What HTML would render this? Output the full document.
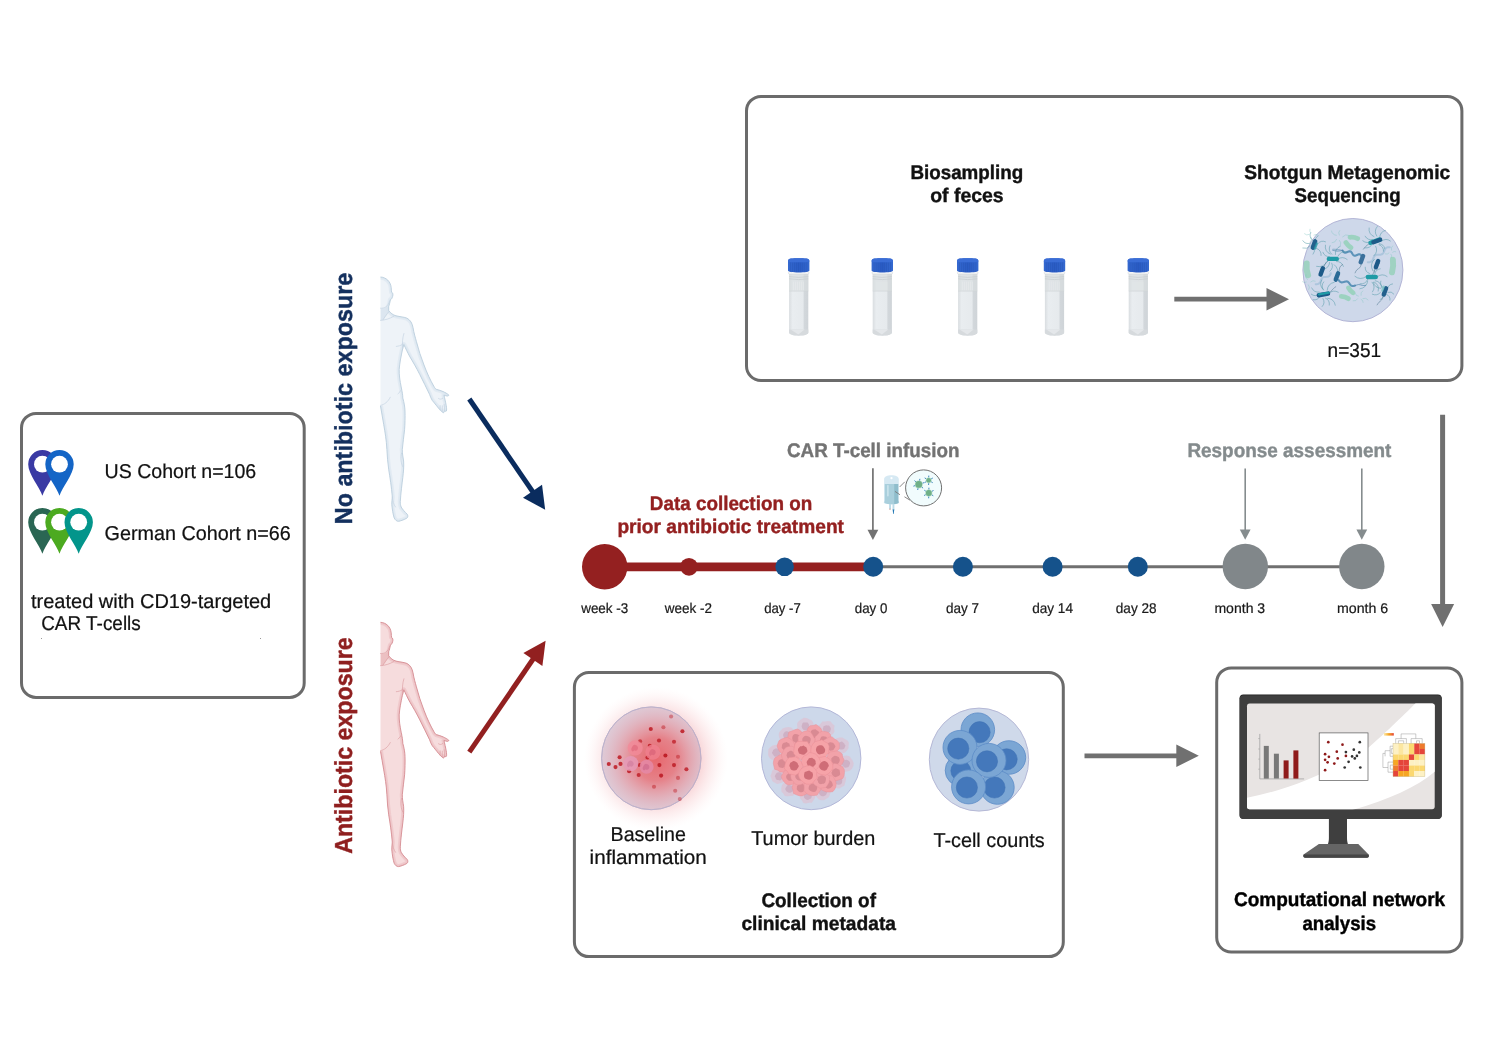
<!DOCTYPE html>
<html lang="en">
<head>
<meta charset="utf-8">
<title>Study design</title>
<style>
html,body{margin:0;padding:0;background:#fff;}
body{width:1490px;height:1043px;overflow:hidden;}
#wrap{will-change:transform;}
svg{display:block;font-family:"Liberation Sans",sans-serif;}
text{text-rendering:geometricPrecision;}
</style>
</head>
<body>
<div id="wrap">
<svg width="1490" height="1043" viewBox="0 0 1490 1043">
<rect width="1490" height="1043" fill="#ffffff"/>
<rect x="21.5" y="413.4" width="282.7" height="284.0" rx="14.5" ry="14.5" fill="#fff" stroke="#6b6b6b" stroke-width="3"/>
<rect x="746.5" y="96.4" width="715.4000000000001" height="284.1" rx="14.5" ry="14.5" fill="#fff" stroke="#6b6b6b" stroke-width="3"/>
<rect x="574.4" y="672.5" width="488.9" height="284.1" rx="14.5" ry="14.5" fill="#fff" stroke="#6b6b6b" stroke-width="3"/>
<rect x="1216.7" y="667.9" width="245.20000000000005" height="284.1" rx="14.5" ry="14.5" fill="#fff" stroke="#6b6b6b" stroke-width="3"/>
<g transform="translate(42.4,450.1)"><path d="M0,45.6 C-2.5,37.5 -14.2,24.5 -14.2,14.2 A14.2,14.2 0 1 1 14.2,14.2 C14.2,24.5 2.5,37.5 0,45.6 Z" fill="#3a3aa4"/><circle cx="0" cy="14.1" r="8.4" fill="#fff"/></g>
<g transform="translate(59.5,450.1)"><path d="M0,45.6 C-2.5,37.5 -14.2,24.5 -14.2,14.2 A14.2,14.2 0 1 1 14.2,14.2 C14.2,24.5 2.5,37.5 0,45.6 Z" fill="#1465c6"/><circle cx="0" cy="14.1" r="8.4" fill="#fff"/></g>
<g transform="translate(42.4,508.1)"><path d="M0,45.6 C-2.5,37.5 -14.2,24.5 -14.2,14.2 A14.2,14.2 0 1 1 14.2,14.2 C14.2,24.5 2.5,37.5 0,45.6 Z" fill="#2a6653"/><circle cx="0" cy="14.1" r="8.4" fill="#fff"/></g>
<g transform="translate(59.5,508.1)"><path d="M0,45.6 C-2.5,37.5 -14.2,24.5 -14.2,14.2 A14.2,14.2 0 1 1 14.2,14.2 C14.2,24.5 2.5,37.5 0,45.6 Z" fill="#4caa20"/><circle cx="0" cy="14.1" r="8.4" fill="#fff"/></g>
<g transform="translate(78.7,508.1)"><path d="M0,45.6 C-2.5,37.5 -14.2,24.5 -14.2,14.2 A14.2,14.2 0 1 1 14.2,14.2 C14.2,24.5 2.5,37.5 0,45.6 Z" fill="#03958b"/><circle cx="0" cy="14.1" r="8.4" fill="#fff"/></g>
<text x="104.6" y="478.1" font-size="20.0" font-weight="normal" fill="#111" stroke="#111" stroke-width="0.22" textLength="151.6" lengthAdjust="spacingAndGlyphs" >US Cohort n=106</text>
<text x="104.6" y="539.6" font-size="20.0" font-weight="normal" fill="#111" stroke="#111" stroke-width="0.22" textLength="186.2" lengthAdjust="spacingAndGlyphs" >German Cohort n=66</text>
<text x="31.0" y="607.7" font-size="20.0" font-weight="normal" fill="#111" stroke="#111" stroke-width="0.22" textLength="240.2" lengthAdjust="spacingAndGlyphs" >treated with CD19-targeted</text>
<text x="41.2" y="630.4" font-size="20.0" font-weight="normal" fill="#111" stroke="#111" stroke-width="0.22" textLength="99.6" lengthAdjust="spacingAndGlyphs" >CAR T-cells</text>
<rect x="41" y="638" width="1" height="1" fill="#999"/><rect x="260" y="638" width="1" height="1" fill="#999"/>
<defs><clipPath id="bodyclip"><path d="M0.5,0 C6,0.3 10.6,4.5 11.2,10.5 C11.4,12.5 11.3,14 11.6,15.2 C12.8,15.6 13.3,17.5 12.6,19.5 C12,21.5 11.2,22.6 10.4,22.8 C10,25.5 9.2,28 8.7,29.5 L8.7,33.5 C10.5,36 13,38 16,38.8 C20,39.8 24.5,40 27,41.2 C30.5,43 32.3,46.5 33,50.5 C34,56.5 35.2,60 36.4,64.5 C38.5,72.5 41,80.5 44,88 C47,96 50.5,103.5 54,109.5 C54.8,111 55.5,111.8 56.3,112.3 C58.5,113 61,113.6 63.2,114.6 C65,115.5 67.5,116.8 68.6,117.8 C69,118.6 68.2,119.2 67,119 C65.8,118.8 64.8,118.4 64,118.2 C64.6,121 65.6,125 66.2,128.5 C66.6,131 66.8,133 66.4,134 C65.8,134.6 65,134.3 64.6,133.6 L64,135.4 C63.4,136 62.6,135.6 62.2,134.8 C60.5,133.5 59.5,132.3 58.4,131 C56,128 54,125.5 52.3,123.5 C51,121.5 50.3,119.5 49.6,117.5 C46.5,111 43,104 39.8,97.6 C36.5,91 33,85 30,80 C27.5,75.5 25.5,71 23.8,67.5 C23.4,69.5 22.8,71.5 22.4,73 C21,79.5 19.6,86.5 19.2,92.5 C19,98 20,104 21.2,110 C22.2,115 22.8,118 22.8,121 C24.2,126 24.9,130 25,134 C25.2,140 25,147 24.6,152.5 C24,159 22.8,166 22.3,172.5 C22.2,176 23,180 23.6,184 C24,189 23.5,195 22.8,200.5 C22,207 20.8,216 20.3,224.5 C20.2,227 20.6,228.5 21.2,230 C22.5,232.5 25,235 27.2,237.2 C28.2,238.5 28,240.3 26.8,241.2 C24,242.8 21,243.8 18.6,244.3 C16.8,244.5 15.2,243 14.2,241 C13,237.5 12.2,232 11.8,227.5 C11.6,225 12.2,222.5 12.3,220 C11.5,210 10,200.5 8.7,192.5 C7.8,186 7.2,179.5 6.9,172.5 C6.4,163 5,155 3.7,147.5 C2.6,141 1.5,135 0.5,129 Z"/></clipPath></defs>
<g transform="translate(380,277)">
<path d="M0.5,0 C6,0.3 10.6,4.5 11.2,10.5 C11.4,12.5 11.3,14 11.6,15.2 C12.8,15.6 13.3,17.5 12.6,19.5 C12,21.5 11.2,22.6 10.4,22.8 C10,25.5 9.2,28 8.7,29.5 L8.7,33.5 C10.5,36 13,38 16,38.8 C20,39.8 24.5,40 27,41.2 C30.5,43 32.3,46.5 33,50.5 C34,56.5 35.2,60 36.4,64.5 C38.5,72.5 41,80.5 44,88 C47,96 50.5,103.5 54,109.5 C54.8,111 55.5,111.8 56.3,112.3 C58.5,113 61,113.6 63.2,114.6 C65,115.5 67.5,116.8 68.6,117.8 C69,118.6 68.2,119.2 67,119 C65.8,118.8 64.8,118.4 64,118.2 C64.6,121 65.6,125 66.2,128.5 C66.6,131 66.8,133 66.4,134 C65.8,134.6 65,134.3 64.6,133.6 L64,135.4 C63.4,136 62.6,135.6 62.2,134.8 C60.5,133.5 59.5,132.3 58.4,131 C56,128 54,125.5 52.3,123.5 C51,121.5 50.3,119.5 49.6,117.5 C46.5,111 43,104 39.8,97.6 C36.5,91 33,85 30,80 C27.5,75.5 25.5,71 23.8,67.5 C23.4,69.5 22.8,71.5 22.4,73 C21,79.5 19.6,86.5 19.2,92.5 C19,98 20,104 21.2,110 C22.2,115 22.8,118 22.8,121 C24.2,126 24.9,130 25,134 C25.2,140 25,147 24.6,152.5 C24,159 22.8,166 22.3,172.5 C22.2,176 23,180 23.6,184 C24,189 23.5,195 22.8,200.5 C22,207 20.8,216 20.3,224.5 C20.2,227 20.6,228.5 21.2,230 C22.5,232.5 25,235 27.2,237.2 C28.2,238.5 28,240.3 26.8,241.2 C24,242.8 21,243.8 18.6,244.3 C16.8,244.5 15.2,243 14.2,241 C13,237.5 12.2,232 11.8,227.5 C11.6,225 12.2,222.5 12.3,220 C11.5,210 10,200.5 8.7,192.5 C7.8,186 7.2,179.5 6.9,172.5 C6.4,163 5,155 3.7,147.5 C2.6,141 1.5,135 0.5,129 Z" fill="#eef3f8"/>
<g clip-path="url(#bodyclip)">
<path d="M0.5,0 C6,0.3 10.6,4.5 11.2,10.5 C11.4,12.5 11.3,14 11.6,15.2 C12.8,15.6 13.3,17.5 12.6,19.5 C12,21.5 11.2,22.6 10.4,22.8 C10,25.5 9.2,28 8.7,29.5 L8.7,33.5 C10.5,36 13,38 16,38.8 C20,39.8 24.5,40 27,41.2 C30.5,43 32.3,46.5 33,50.5 C34,56.5 35.2,60 36.4,64.5 C38.5,72.5 41,80.5 44,88 C47,96 50.5,103.5 54,109.5 C54.8,111 55.5,111.8 56.3,112.3 C58.5,113 61,113.6 63.2,114.6 C65,115.5 67.5,116.8 68.6,117.8 C69,118.6 68.2,119.2 67,119 C65.8,118.8 64.8,118.4 64,118.2 C64.6,121 65.6,125 66.2,128.5 C66.6,131 66.8,133 66.4,134 C65.8,134.6 65,134.3 64.6,133.6 L64,135.4 C63.4,136 62.6,135.6 62.2,134.8 C60.5,133.5 59.5,132.3 58.4,131 C56,128 54,125.5 52.3,123.5 C51,121.5 50.3,119.5 49.6,117.5 C46.5,111 43,104 39.8,97.6 C36.5,91 33,85 30,80 C27.5,75.5 25.5,71 23.8,67.5 C23.4,69.5 22.8,71.5 22.4,73 C21,79.5 19.6,86.5 19.2,92.5 C19,98 20,104 21.2,110 C22.2,115 22.8,118 22.8,121 C24.2,126 24.9,130 25,134 C25.2,140 25,147 24.6,152.5 C24,159 22.8,166 22.3,172.5 C22.2,176 23,180 23.6,184 C24,189 23.5,195 22.8,200.5 C22,207 20.8,216 20.3,224.5 C20.2,227 20.6,228.5 21.2,230 C22.5,232.5 25,235 27.2,237.2 C28.2,238.5 28,240.3 26.8,241.2 C24,242.8 21,243.8 18.6,244.3 C16.8,244.5 15.2,243 14.2,241 C13,237.5 12.2,232 11.8,227.5 C11.6,225 12.2,222.5 12.3,220 C11.5,210 10,200.5 8.7,192.5 C7.8,186 7.2,179.5 6.9,172.5 C6.4,163 5,155 3.7,147.5 C2.6,141 1.5,135 0.5,129" fill="none" stroke="#d9e4ee" stroke-width="5" stroke-linejoin="round" opacity="0.55"/>
<path d="M0.5,0 C6,0.3 10.6,4.5 11.2,10.5 C11.4,12.5 11.3,14 11.6,15.2 C12.8,15.6 13.3,17.5 12.6,19.5 C12,21.5 11.2,22.6 10.4,22.8 C10,25.5 9.2,28 8.7,29.5 L8.7,33.5 C10.5,36 13,38 16,38.8 C20,39.8 24.5,40 27,41.2 C30.5,43 32.3,46.5 33,50.5 C34,56.5 35.2,60 36.4,64.5 C38.5,72.5 41,80.5 44,88 C47,96 50.5,103.5 54,109.5 C54.8,111 55.5,111.8 56.3,112.3 C58.5,113 61,113.6 63.2,114.6 C65,115.5 67.5,116.8 68.6,117.8 C69,118.6 68.2,119.2 67,119 C65.8,118.8 64.8,118.4 64,118.2 C64.6,121 65.6,125 66.2,128.5 C66.6,131 66.8,133 66.4,134 C65.8,134.6 65,134.3 64.6,133.6 L64,135.4 C63.4,136 62.6,135.6 62.2,134.8 C60.5,133.5 59.5,132.3 58.4,131 C56,128 54,125.5 52.3,123.5 C51,121.5 50.3,119.5 49.6,117.5 C46.5,111 43,104 39.8,97.6 C36.5,91 33,85 30,80 C27.5,75.5 25.5,71 23.8,67.5 C23.4,69.5 22.8,71.5 22.4,73 C21,79.5 19.6,86.5 19.2,92.5 C19,98 20,104 21.2,110 C22.2,115 22.8,118 22.8,121 C24.2,126 24.9,130 25,134 C25.2,140 25,147 24.6,152.5 C24,159 22.8,166 22.3,172.5 C22.2,176 23,180 23.6,184 C24,189 23.5,195 22.8,200.5 C22,207 20.8,216 20.3,224.5 C20.2,227 20.6,228.5 21.2,230 C22.5,232.5 25,235 27.2,237.2 C28.2,238.5 28,240.3 26.8,241.2 C24,242.8 21,243.8 18.6,244.3 C16.8,244.5 15.2,243 14.2,241 C13,237.5 12.2,232 11.8,227.5 C11.6,225 12.2,222.5 12.3,220 C11.5,210 10,200.5 8.7,192.5 C7.8,186 7.2,179.5 6.9,172.5 C6.4,163 5,155 3.7,147.5 C2.6,141 1.5,135 0.5,129" fill="none" stroke="#d9e4ee" stroke-width="2.4" stroke-linejoin="round" opacity="0.6"/>
<path d="M0.5,31.4 C4,31.6 7.2,30.4 8.9,28.2 L9.4,34.4 C7,37.5 4.8,40.5 3.4,42.8 L0.5,43.4 Z" fill="#d9e4ee" opacity="0.9"/>
</g>
<path d="M0.5,0 C6,0.3 10.6,4.5 11.2,10.5 C11.4,12.5 11.3,14 11.6,15.2 C12.8,15.6 13.3,17.5 12.6,19.5 C12,21.5 11.2,22.6 10.4,22.8 C10,25.5 9.2,28 8.7,29.5 L8.7,33.5 C10.5,36 13,38 16,38.8 C20,39.8 24.5,40 27,41.2 C30.5,43 32.3,46.5 33,50.5 C34,56.5 35.2,60 36.4,64.5 C38.5,72.5 41,80.5 44,88 C47,96 50.5,103.5 54,109.5 C54.8,111 55.5,111.8 56.3,112.3 C58.5,113 61,113.6 63.2,114.6 C65,115.5 67.5,116.8 68.6,117.8 C69,118.6 68.2,119.2 67,119 C65.8,118.8 64.8,118.4 64,118.2 C64.6,121 65.6,125 66.2,128.5 C66.6,131 66.8,133 66.4,134 C65.8,134.6 65,134.3 64.6,133.6 L64,135.4 C63.4,136 62.6,135.6 62.2,134.8 C60.5,133.5 59.5,132.3 58.4,131 C56,128 54,125.5 52.3,123.5 C51,121.5 50.3,119.5 49.6,117.5 C46.5,111 43,104 39.8,97.6 C36.5,91 33,85 30,80 C27.5,75.5 25.5,71 23.8,67.5 C23.4,69.5 22.8,71.5 22.4,73 C21,79.5 19.6,86.5 19.2,92.5 C19,98 20,104 21.2,110 C22.2,115 22.8,118 22.8,121 C24.2,126 24.9,130 25,134 C25.2,140 25,147 24.6,152.5 C24,159 22.8,166 22.3,172.5 C22.2,176 23,180 23.6,184 C24,189 23.5,195 22.8,200.5 C22,207 20.8,216 20.3,224.5 C20.2,227 20.6,228.5 21.2,230 C22.5,232.5 25,235 27.2,237.2 C28.2,238.5 28,240.3 26.8,241.2 C24,242.8 21,243.8 18.6,244.3 C16.8,244.5 15.2,243 14.2,241 C13,237.5 12.2,232 11.8,227.5 C11.6,225 12.2,222.5 12.3,220 C11.5,210 10,200.5 8.7,192.5 C7.8,186 7.2,179.5 6.9,172.5 C6.4,163 5,155 3.7,147.5 C2.6,141 1.5,135 0.5,129" fill="none" stroke="#bccfde" stroke-width="0.9" stroke-linejoin="round"/>
<path d="M0.5,31.2 C4.5,31.6 8.2,29.5 9.6,24 M0.5,43.4 C5,43.2 10,41.6 13.7,39.3 M8.9,34.6 C6.5,37.5 4.5,40.3 3,42.8 M16.3,69.4 C18.5,69.2 20.8,68.6 22.4,67.4 M23.9,56.5 C22.4,61 22.2,66.5 22.7,71.2 M0.5,128.4 C4.5,127.6 8,124.8 10.3,120.2 M18,116.8 C19.5,115.6 20.8,114 21.6,112.4 M21.6,176 C20.2,181 20.8,186 23,190 M12.3,220 C12.8,224 13.6,227.5 15.5,230 M64.2,127.5 L64.6,133.4 M62.3,128.8 L62.3,134.6 M60.2,128.6 L60,132.8 M58.5,121.5 C60,122.5 61.5,122.4 62.8,121.2" fill="none" stroke="#c3d3e1" stroke-width="0.8" stroke-linecap="round" opacity="0.85"/>
</g>
<g transform="translate(380,622.3)">
<path d="M0.5,0 C6,0.3 10.6,4.5 11.2,10.5 C11.4,12.5 11.3,14 11.6,15.2 C12.8,15.6 13.3,17.5 12.6,19.5 C12,21.5 11.2,22.6 10.4,22.8 C10,25.5 9.2,28 8.7,29.5 L8.7,33.5 C10.5,36 13,38 16,38.8 C20,39.8 24.5,40 27,41.2 C30.5,43 32.3,46.5 33,50.5 C34,56.5 35.2,60 36.4,64.5 C38.5,72.5 41,80.5 44,88 C47,96 50.5,103.5 54,109.5 C54.8,111 55.5,111.8 56.3,112.3 C58.5,113 61,113.6 63.2,114.6 C65,115.5 67.5,116.8 68.6,117.8 C69,118.6 68.2,119.2 67,119 C65.8,118.8 64.8,118.4 64,118.2 C64.6,121 65.6,125 66.2,128.5 C66.6,131 66.8,133 66.4,134 C65.8,134.6 65,134.3 64.6,133.6 L64,135.4 C63.4,136 62.6,135.6 62.2,134.8 C60.5,133.5 59.5,132.3 58.4,131 C56,128 54,125.5 52.3,123.5 C51,121.5 50.3,119.5 49.6,117.5 C46.5,111 43,104 39.8,97.6 C36.5,91 33,85 30,80 C27.5,75.5 25.5,71 23.8,67.5 C23.4,69.5 22.8,71.5 22.4,73 C21,79.5 19.6,86.5 19.2,92.5 C19,98 20,104 21.2,110 C22.2,115 22.8,118 22.8,121 C24.2,126 24.9,130 25,134 C25.2,140 25,147 24.6,152.5 C24,159 22.8,166 22.3,172.5 C22.2,176 23,180 23.6,184 C24,189 23.5,195 22.8,200.5 C22,207 20.8,216 20.3,224.5 C20.2,227 20.6,228.5 21.2,230 C22.5,232.5 25,235 27.2,237.2 C28.2,238.5 28,240.3 26.8,241.2 C24,242.8 21,243.8 18.6,244.3 C16.8,244.5 15.2,243 14.2,241 C13,237.5 12.2,232 11.8,227.5 C11.6,225 12.2,222.5 12.3,220 C11.5,210 10,200.5 8.7,192.5 C7.8,186 7.2,179.5 6.9,172.5 C6.4,163 5,155 3.7,147.5 C2.6,141 1.5,135 0.5,129 Z" fill="#f6dcdd"/>
<g clip-path="url(#bodyclip)">
<path d="M0.5,0 C6,0.3 10.6,4.5 11.2,10.5 C11.4,12.5 11.3,14 11.6,15.2 C12.8,15.6 13.3,17.5 12.6,19.5 C12,21.5 11.2,22.6 10.4,22.8 C10,25.5 9.2,28 8.7,29.5 L8.7,33.5 C10.5,36 13,38 16,38.8 C20,39.8 24.5,40 27,41.2 C30.5,43 32.3,46.5 33,50.5 C34,56.5 35.2,60 36.4,64.5 C38.5,72.5 41,80.5 44,88 C47,96 50.5,103.5 54,109.5 C54.8,111 55.5,111.8 56.3,112.3 C58.5,113 61,113.6 63.2,114.6 C65,115.5 67.5,116.8 68.6,117.8 C69,118.6 68.2,119.2 67,119 C65.8,118.8 64.8,118.4 64,118.2 C64.6,121 65.6,125 66.2,128.5 C66.6,131 66.8,133 66.4,134 C65.8,134.6 65,134.3 64.6,133.6 L64,135.4 C63.4,136 62.6,135.6 62.2,134.8 C60.5,133.5 59.5,132.3 58.4,131 C56,128 54,125.5 52.3,123.5 C51,121.5 50.3,119.5 49.6,117.5 C46.5,111 43,104 39.8,97.6 C36.5,91 33,85 30,80 C27.5,75.5 25.5,71 23.8,67.5 C23.4,69.5 22.8,71.5 22.4,73 C21,79.5 19.6,86.5 19.2,92.5 C19,98 20,104 21.2,110 C22.2,115 22.8,118 22.8,121 C24.2,126 24.9,130 25,134 C25.2,140 25,147 24.6,152.5 C24,159 22.8,166 22.3,172.5 C22.2,176 23,180 23.6,184 C24,189 23.5,195 22.8,200.5 C22,207 20.8,216 20.3,224.5 C20.2,227 20.6,228.5 21.2,230 C22.5,232.5 25,235 27.2,237.2 C28.2,238.5 28,240.3 26.8,241.2 C24,242.8 21,243.8 18.6,244.3 C16.8,244.5 15.2,243 14.2,241 C13,237.5 12.2,232 11.8,227.5 C11.6,225 12.2,222.5 12.3,220 C11.5,210 10,200.5 8.7,192.5 C7.8,186 7.2,179.5 6.9,172.5 C6.4,163 5,155 3.7,147.5 C2.6,141 1.5,135 0.5,129" fill="none" stroke="#ebbcbf" stroke-width="5" stroke-linejoin="round" opacity="0.55"/>
<path d="M0.5,0 C6,0.3 10.6,4.5 11.2,10.5 C11.4,12.5 11.3,14 11.6,15.2 C12.8,15.6 13.3,17.5 12.6,19.5 C12,21.5 11.2,22.6 10.4,22.8 C10,25.5 9.2,28 8.7,29.5 L8.7,33.5 C10.5,36 13,38 16,38.8 C20,39.8 24.5,40 27,41.2 C30.5,43 32.3,46.5 33,50.5 C34,56.5 35.2,60 36.4,64.5 C38.5,72.5 41,80.5 44,88 C47,96 50.5,103.5 54,109.5 C54.8,111 55.5,111.8 56.3,112.3 C58.5,113 61,113.6 63.2,114.6 C65,115.5 67.5,116.8 68.6,117.8 C69,118.6 68.2,119.2 67,119 C65.8,118.8 64.8,118.4 64,118.2 C64.6,121 65.6,125 66.2,128.5 C66.6,131 66.8,133 66.4,134 C65.8,134.6 65,134.3 64.6,133.6 L64,135.4 C63.4,136 62.6,135.6 62.2,134.8 C60.5,133.5 59.5,132.3 58.4,131 C56,128 54,125.5 52.3,123.5 C51,121.5 50.3,119.5 49.6,117.5 C46.5,111 43,104 39.8,97.6 C36.5,91 33,85 30,80 C27.5,75.5 25.5,71 23.8,67.5 C23.4,69.5 22.8,71.5 22.4,73 C21,79.5 19.6,86.5 19.2,92.5 C19,98 20,104 21.2,110 C22.2,115 22.8,118 22.8,121 C24.2,126 24.9,130 25,134 C25.2,140 25,147 24.6,152.5 C24,159 22.8,166 22.3,172.5 C22.2,176 23,180 23.6,184 C24,189 23.5,195 22.8,200.5 C22,207 20.8,216 20.3,224.5 C20.2,227 20.6,228.5 21.2,230 C22.5,232.5 25,235 27.2,237.2 C28.2,238.5 28,240.3 26.8,241.2 C24,242.8 21,243.8 18.6,244.3 C16.8,244.5 15.2,243 14.2,241 C13,237.5 12.2,232 11.8,227.5 C11.6,225 12.2,222.5 12.3,220 C11.5,210 10,200.5 8.7,192.5 C7.8,186 7.2,179.5 6.9,172.5 C6.4,163 5,155 3.7,147.5 C2.6,141 1.5,135 0.5,129" fill="none" stroke="#ebbcbf" stroke-width="2.4" stroke-linejoin="round" opacity="0.6"/>
<path d="M0.5,31.4 C4,31.6 7.2,30.4 8.9,28.2 L9.4,34.4 C7,37.5 4.8,40.5 3.4,42.8 L0.5,43.4 Z" fill="#ebbcbf" opacity="0.9"/>
</g>
<path d="M0.5,0 C6,0.3 10.6,4.5 11.2,10.5 C11.4,12.5 11.3,14 11.6,15.2 C12.8,15.6 13.3,17.5 12.6,19.5 C12,21.5 11.2,22.6 10.4,22.8 C10,25.5 9.2,28 8.7,29.5 L8.7,33.5 C10.5,36 13,38 16,38.8 C20,39.8 24.5,40 27,41.2 C30.5,43 32.3,46.5 33,50.5 C34,56.5 35.2,60 36.4,64.5 C38.5,72.5 41,80.5 44,88 C47,96 50.5,103.5 54,109.5 C54.8,111 55.5,111.8 56.3,112.3 C58.5,113 61,113.6 63.2,114.6 C65,115.5 67.5,116.8 68.6,117.8 C69,118.6 68.2,119.2 67,119 C65.8,118.8 64.8,118.4 64,118.2 C64.6,121 65.6,125 66.2,128.5 C66.6,131 66.8,133 66.4,134 C65.8,134.6 65,134.3 64.6,133.6 L64,135.4 C63.4,136 62.6,135.6 62.2,134.8 C60.5,133.5 59.5,132.3 58.4,131 C56,128 54,125.5 52.3,123.5 C51,121.5 50.3,119.5 49.6,117.5 C46.5,111 43,104 39.8,97.6 C36.5,91 33,85 30,80 C27.5,75.5 25.5,71 23.8,67.5 C23.4,69.5 22.8,71.5 22.4,73 C21,79.5 19.6,86.5 19.2,92.5 C19,98 20,104 21.2,110 C22.2,115 22.8,118 22.8,121 C24.2,126 24.9,130 25,134 C25.2,140 25,147 24.6,152.5 C24,159 22.8,166 22.3,172.5 C22.2,176 23,180 23.6,184 C24,189 23.5,195 22.8,200.5 C22,207 20.8,216 20.3,224.5 C20.2,227 20.6,228.5 21.2,230 C22.5,232.5 25,235 27.2,237.2 C28.2,238.5 28,240.3 26.8,241.2 C24,242.8 21,243.8 18.6,244.3 C16.8,244.5 15.2,243 14.2,241 C13,237.5 12.2,232 11.8,227.5 C11.6,225 12.2,222.5 12.3,220 C11.5,210 10,200.5 8.7,192.5 C7.8,186 7.2,179.5 6.9,172.5 C6.4,163 5,155 3.7,147.5 C2.6,141 1.5,135 0.5,129" fill="none" stroke="#d68f94" stroke-width="0.9" stroke-linejoin="round"/>
<path d="M0.5,31.2 C4.5,31.6 8.2,29.5 9.6,24 M0.5,43.4 C5,43.2 10,41.6 13.7,39.3 M8.9,34.6 C6.5,37.5 4.5,40.3 3,42.8 M16.3,69.4 C18.5,69.2 20.8,68.6 22.4,67.4 M23.9,56.5 C22.4,61 22.2,66.5 22.7,71.2 M0.5,128.4 C4.5,127.6 8,124.8 10.3,120.2 M18,116.8 C19.5,115.6 20.8,114 21.6,112.4 M21.6,176 C20.2,181 20.8,186 23,190 M12.3,220 C12.8,224 13.6,227.5 15.5,230 M64.2,127.5 L64.6,133.4 M62.3,128.8 L62.3,134.6 M60.2,128.6 L60,132.8 M58.5,121.5 C60,122.5 61.5,122.4 62.8,121.2" fill="none" stroke="#dda0a5" stroke-width="0.8" stroke-linecap="round" opacity="0.85"/>
</g>
<text transform="translate(351.6,524.2) rotate(-90)" font-size="24.6" font-weight="bold" fill="#14305e" stroke="#14305e" stroke-width="0.45" textLength="251.5" lengthAdjust="spacingAndGlyphs">No antibiotic exposure</text>
<text transform="translate(351.6,853.8) rotate(-90)" font-size="24.6" font-weight="bold" fill="#8f1f1f" stroke="#8f1f1f" stroke-width="0.45" textLength="216.5" lengthAdjust="spacingAndGlyphs">Antibiotic exposure</text>
<line x1="469.3" y1="399.0" x2="533.0" y2="492.1" stroke="#0a2c5e" stroke-width="5"/>
<polygon points="545.2,509.8 523.0,497.7 542.0,484.7" fill="#0a2c5e"/>
<line x1="469.3" y1="752.2" x2="533.5" y2="658.5" stroke="#922020" stroke-width="5"/>
<polygon points="545.6,640.8 542.4,665.9 523.4,652.9" fill="#922020"/>
<text x="910.4" y="178.6" font-size="19.7" font-weight="bold" fill="#111" stroke="#111" stroke-width="0.4" textLength="112.8" lengthAdjust="spacingAndGlyphs" >Biosampling</text>
<text x="930.2" y="201.8" font-size="19.7" font-weight="bold" fill="#111" stroke="#111" stroke-width="0.4" textLength="73.4" lengthAdjust="spacingAndGlyphs" >of feces</text>
<text x="1244.3" y="178.6" font-size="19.7" font-weight="bold" fill="#111" stroke="#111" stroke-width="0.4" textLength="205.9" lengthAdjust="spacingAndGlyphs" >Shotgun Metagenomic</text>
<text x="1294.6" y="201.8" font-size="19.7" font-weight="bold" fill="#111" stroke="#111" stroke-width="0.4" textLength="106.0" lengthAdjust="spacingAndGlyphs" >Sequencing</text>
<text x="1327.6" y="356.9" font-size="20.0" font-weight="normal" fill="#111" stroke="#111" stroke-width="0.22" textLength="53.6" lengthAdjust="spacingAndGlyphs" >n=351</text>
<defs><linearGradient id="tb" x1="0" x2="1" y1="0" y2="0"><stop offset="0" stop-color="#d9dde0"/><stop offset="0.18" stop-color="#e9edf0"/><stop offset="0.72" stop-color="#e6eaed"/><stop offset="0.8" stop-color="#d2d7db"/><stop offset="1" stop-color="#cfd4d8"/></linearGradient><linearGradient id="cap" x1="0" x2="1" y1="0" y2="0"><stop offset="0" stop-color="#3468cf"/><stop offset="0.5" stop-color="#2a5cc4"/><stop offset="1" stop-color="#3468cf"/></linearGradient><radialGradient id="glow" cx="0.5" cy="0.5" r="0.5"><stop offset="0" stop-color="#e8646a" stop-opacity="0.97"/><stop offset="0.3" stop-color="#e87278" stop-opacity="0.84"/><stop offset="0.6" stop-color="#ee969c" stop-opacity="0.42"/><stop offset="0.82" stop-color="#f6bcc0" stop-opacity="0.2"/><stop offset="1" stop-color="#ffdfe0" stop-opacity="0"/></radialGradient><linearGradient id="leg" x1="0" x2="1"><stop offset="0" stop-color="#fde9a8"/><stop offset="0.5" stop-color="#f5a623"/><stop offset="1" stop-color="#e5453a"/></linearGradient></defs>
<g transform="translate(789.1,0)">
<path d="M0,273 H19.2 V332.6 C19.2,334.6 15,335.7 9.6,335.7 C4.2,335.7 0,334.6 0,332.6 Z" fill="url(#tb)"/>
<rect x="0" y="274" width="19.2" height="17" fill="#d9dde0" opacity="0.6"/>
<path d="M0,276.6 Q9.6,278.2 19.2,276.6 M0,278.8 Q9.6,280.4 19.2,278.8" fill="none" stroke="#c3c9cd" stroke-width="0.6"/>
<rect x="4.0" y="281.5" width="0.6" height="9" fill="#e8ebed" opacity="0.8"/>
<rect x="6.0" y="281.5" width="0.6" height="9" fill="#e8ebed" opacity="0.8"/>
<rect x="8.0" y="281.5" width="0.6" height="9" fill="#e8ebed" opacity="0.8"/>
<rect x="10.0" y="281.5" width="0.6" height="9" fill="#e8ebed" opacity="0.8"/>
<rect x="12.0" y="281.5" width="0.6" height="9" fill="#e8ebed" opacity="0.8"/>
<rect x="14.0" y="281.5" width="0.6" height="9" fill="#e8ebed" opacity="0.8"/>
<rect x="0" y="290.8" width="19.2" height="0.6" fill="#cfd4d8"/>
<path d="M0,329.4 H19.2 V332.6 C19.2,334.6 15,335.7 9.6,335.7 C4.2,335.7 0,334.6 0,332.6 Z" fill="#d6dadd"/>
<path d="M1.5,329.4 H15.5 L9.2,334.6 Z" fill="#e4e7ea"/>
<rect x="-0.7" y="271.4" width="20.6" height="2.7" rx="1.1" fill="#f4f5f6" stroke="#d2d6d9" stroke-width="0.5"/>
<path d="M-1.1,261 C-1.1,259.3 0.2,258.6 2,258.5 C6,258.2 13.2,258.2 17.2,258.5 C19,258.6 20.3,259.3 20.3,261 V270.6 C20.3,271.9 15.7,272.6 9.6,272.6 C3.5,272.6 -1.1,271.9 -1.1,270.6 Z" fill="url(#cap)"/>
<rect x="1.00" y="262.5" width="0.7" height="9.4" fill="#2550b0" opacity="0.45"/>
<rect x="3.05" y="262.5" width="0.7" height="9.4" fill="#2550b0" opacity="0.45"/>
<rect x="5.10" y="262.5" width="0.7" height="9.4" fill="#2550b0" opacity="0.45"/>
<rect x="7.15" y="262.5" width="0.7" height="9.4" fill="#2550b0" opacity="0.45"/>
<rect x="9.20" y="262.5" width="0.7" height="9.4" fill="#2550b0" opacity="0.45"/>
<rect x="11.25" y="262.5" width="0.7" height="9.4" fill="#2550b0" opacity="0.45"/>
<rect x="13.30" y="262.5" width="0.7" height="9.4" fill="#2550b0" opacity="0.45"/>
<rect x="15.35" y="262.5" width="0.7" height="9.4" fill="#2550b0" opacity="0.45"/>
<rect x="17.40" y="262.5" width="0.7" height="9.4" fill="#2550b0" opacity="0.45"/>
<path d="M-1.1,261.4 C3,262.6 16.2,262.6 20.3,261.4 V261 C20.3,259.3 19,258.6 17.2,258.5 C13.2,258.2 6,258.2 2,258.5 C0.2,258.6 -1.1,259.3 -1.1,261 Z" fill="#3a6dd6"/>
</g>
<g transform="translate(872.7,0)">
<path d="M0,273 H19.2 V332.6 C19.2,334.6 15,335.7 9.6,335.7 C4.2,335.7 0,334.6 0,332.6 Z" fill="url(#tb)"/>
<rect x="0" y="274" width="19.2" height="17" fill="#d9dde0" opacity="0.6"/>
<path d="M0,276.6 Q9.6,278.2 19.2,276.6 M0,278.8 Q9.6,280.4 19.2,278.8" fill="none" stroke="#c3c9cd" stroke-width="0.6"/>
<rect x="4.0" y="281.5" width="0.6" height="9" fill="#e8ebed" opacity="0.8"/>
<rect x="6.0" y="281.5" width="0.6" height="9" fill="#e8ebed" opacity="0.8"/>
<rect x="8.0" y="281.5" width="0.6" height="9" fill="#e8ebed" opacity="0.8"/>
<rect x="10.0" y="281.5" width="0.6" height="9" fill="#e8ebed" opacity="0.8"/>
<rect x="12.0" y="281.5" width="0.6" height="9" fill="#e8ebed" opacity="0.8"/>
<rect x="14.0" y="281.5" width="0.6" height="9" fill="#e8ebed" opacity="0.8"/>
<rect x="0" y="290.8" width="19.2" height="0.6" fill="#cfd4d8"/>
<path d="M0,329.4 H19.2 V332.6 C19.2,334.6 15,335.7 9.6,335.7 C4.2,335.7 0,334.6 0,332.6 Z" fill="#d6dadd"/>
<path d="M1.5,329.4 H15.5 L9.2,334.6 Z" fill="#e4e7ea"/>
<rect x="-0.7" y="271.4" width="20.6" height="2.7" rx="1.1" fill="#f4f5f6" stroke="#d2d6d9" stroke-width="0.5"/>
<path d="M-1.1,261 C-1.1,259.3 0.2,258.6 2,258.5 C6,258.2 13.2,258.2 17.2,258.5 C19,258.6 20.3,259.3 20.3,261 V270.6 C20.3,271.9 15.7,272.6 9.6,272.6 C3.5,272.6 -1.1,271.9 -1.1,270.6 Z" fill="url(#cap)"/>
<rect x="1.00" y="262.5" width="0.7" height="9.4" fill="#2550b0" opacity="0.45"/>
<rect x="3.05" y="262.5" width="0.7" height="9.4" fill="#2550b0" opacity="0.45"/>
<rect x="5.10" y="262.5" width="0.7" height="9.4" fill="#2550b0" opacity="0.45"/>
<rect x="7.15" y="262.5" width="0.7" height="9.4" fill="#2550b0" opacity="0.45"/>
<rect x="9.20" y="262.5" width="0.7" height="9.4" fill="#2550b0" opacity="0.45"/>
<rect x="11.25" y="262.5" width="0.7" height="9.4" fill="#2550b0" opacity="0.45"/>
<rect x="13.30" y="262.5" width="0.7" height="9.4" fill="#2550b0" opacity="0.45"/>
<rect x="15.35" y="262.5" width="0.7" height="9.4" fill="#2550b0" opacity="0.45"/>
<rect x="17.40" y="262.5" width="0.7" height="9.4" fill="#2550b0" opacity="0.45"/>
<path d="M-1.1,261.4 C3,262.6 16.2,262.6 20.3,261.4 V261 C20.3,259.3 19,258.6 17.2,258.5 C13.2,258.2 6,258.2 2,258.5 C0.2,258.6 -1.1,259.3 -1.1,261 Z" fill="#3a6dd6"/>
</g>
<g transform="translate(958.1,0)">
<path d="M0,273 H19.2 V332.6 C19.2,334.6 15,335.7 9.6,335.7 C4.2,335.7 0,334.6 0,332.6 Z" fill="url(#tb)"/>
<rect x="0" y="274" width="19.2" height="17" fill="#d9dde0" opacity="0.6"/>
<path d="M0,276.6 Q9.6,278.2 19.2,276.6 M0,278.8 Q9.6,280.4 19.2,278.8" fill="none" stroke="#c3c9cd" stroke-width="0.6"/>
<rect x="4.0" y="281.5" width="0.6" height="9" fill="#e8ebed" opacity="0.8"/>
<rect x="6.0" y="281.5" width="0.6" height="9" fill="#e8ebed" opacity="0.8"/>
<rect x="8.0" y="281.5" width="0.6" height="9" fill="#e8ebed" opacity="0.8"/>
<rect x="10.0" y="281.5" width="0.6" height="9" fill="#e8ebed" opacity="0.8"/>
<rect x="12.0" y="281.5" width="0.6" height="9" fill="#e8ebed" opacity="0.8"/>
<rect x="14.0" y="281.5" width="0.6" height="9" fill="#e8ebed" opacity="0.8"/>
<rect x="0" y="290.8" width="19.2" height="0.6" fill="#cfd4d8"/>
<path d="M0,329.4 H19.2 V332.6 C19.2,334.6 15,335.7 9.6,335.7 C4.2,335.7 0,334.6 0,332.6 Z" fill="#d6dadd"/>
<path d="M1.5,329.4 H15.5 L9.2,334.6 Z" fill="#e4e7ea"/>
<rect x="-0.7" y="271.4" width="20.6" height="2.7" rx="1.1" fill="#f4f5f6" stroke="#d2d6d9" stroke-width="0.5"/>
<path d="M-1.1,261 C-1.1,259.3 0.2,258.6 2,258.5 C6,258.2 13.2,258.2 17.2,258.5 C19,258.6 20.3,259.3 20.3,261 V270.6 C20.3,271.9 15.7,272.6 9.6,272.6 C3.5,272.6 -1.1,271.9 -1.1,270.6 Z" fill="url(#cap)"/>
<rect x="1.00" y="262.5" width="0.7" height="9.4" fill="#2550b0" opacity="0.45"/>
<rect x="3.05" y="262.5" width="0.7" height="9.4" fill="#2550b0" opacity="0.45"/>
<rect x="5.10" y="262.5" width="0.7" height="9.4" fill="#2550b0" opacity="0.45"/>
<rect x="7.15" y="262.5" width="0.7" height="9.4" fill="#2550b0" opacity="0.45"/>
<rect x="9.20" y="262.5" width="0.7" height="9.4" fill="#2550b0" opacity="0.45"/>
<rect x="11.25" y="262.5" width="0.7" height="9.4" fill="#2550b0" opacity="0.45"/>
<rect x="13.30" y="262.5" width="0.7" height="9.4" fill="#2550b0" opacity="0.45"/>
<rect x="15.35" y="262.5" width="0.7" height="9.4" fill="#2550b0" opacity="0.45"/>
<rect x="17.40" y="262.5" width="0.7" height="9.4" fill="#2550b0" opacity="0.45"/>
<path d="M-1.1,261.4 C3,262.6 16.2,262.6 20.3,261.4 V261 C20.3,259.3 19,258.6 17.2,258.5 C13.2,258.2 6,258.2 2,258.5 C0.2,258.6 -1.1,259.3 -1.1,261 Z" fill="#3a6dd6"/>
</g>
<g transform="translate(1044.9,0)">
<path d="M0,273 H19.2 V332.6 C19.2,334.6 15,335.7 9.6,335.7 C4.2,335.7 0,334.6 0,332.6 Z" fill="url(#tb)"/>
<rect x="0" y="274" width="19.2" height="17" fill="#d9dde0" opacity="0.6"/>
<path d="M0,276.6 Q9.6,278.2 19.2,276.6 M0,278.8 Q9.6,280.4 19.2,278.8" fill="none" stroke="#c3c9cd" stroke-width="0.6"/>
<rect x="4.0" y="281.5" width="0.6" height="9" fill="#e8ebed" opacity="0.8"/>
<rect x="6.0" y="281.5" width="0.6" height="9" fill="#e8ebed" opacity="0.8"/>
<rect x="8.0" y="281.5" width="0.6" height="9" fill="#e8ebed" opacity="0.8"/>
<rect x="10.0" y="281.5" width="0.6" height="9" fill="#e8ebed" opacity="0.8"/>
<rect x="12.0" y="281.5" width="0.6" height="9" fill="#e8ebed" opacity="0.8"/>
<rect x="14.0" y="281.5" width="0.6" height="9" fill="#e8ebed" opacity="0.8"/>
<rect x="0" y="290.8" width="19.2" height="0.6" fill="#cfd4d8"/>
<path d="M0,329.4 H19.2 V332.6 C19.2,334.6 15,335.7 9.6,335.7 C4.2,335.7 0,334.6 0,332.6 Z" fill="#d6dadd"/>
<path d="M1.5,329.4 H15.5 L9.2,334.6 Z" fill="#e4e7ea"/>
<rect x="-0.7" y="271.4" width="20.6" height="2.7" rx="1.1" fill="#f4f5f6" stroke="#d2d6d9" stroke-width="0.5"/>
<path d="M-1.1,261 C-1.1,259.3 0.2,258.6 2,258.5 C6,258.2 13.2,258.2 17.2,258.5 C19,258.6 20.3,259.3 20.3,261 V270.6 C20.3,271.9 15.7,272.6 9.6,272.6 C3.5,272.6 -1.1,271.9 -1.1,270.6 Z" fill="url(#cap)"/>
<rect x="1.00" y="262.5" width="0.7" height="9.4" fill="#2550b0" opacity="0.45"/>
<rect x="3.05" y="262.5" width="0.7" height="9.4" fill="#2550b0" opacity="0.45"/>
<rect x="5.10" y="262.5" width="0.7" height="9.4" fill="#2550b0" opacity="0.45"/>
<rect x="7.15" y="262.5" width="0.7" height="9.4" fill="#2550b0" opacity="0.45"/>
<rect x="9.20" y="262.5" width="0.7" height="9.4" fill="#2550b0" opacity="0.45"/>
<rect x="11.25" y="262.5" width="0.7" height="9.4" fill="#2550b0" opacity="0.45"/>
<rect x="13.30" y="262.5" width="0.7" height="9.4" fill="#2550b0" opacity="0.45"/>
<rect x="15.35" y="262.5" width="0.7" height="9.4" fill="#2550b0" opacity="0.45"/>
<rect x="17.40" y="262.5" width="0.7" height="9.4" fill="#2550b0" opacity="0.45"/>
<path d="M-1.1,261.4 C3,262.6 16.2,262.6 20.3,261.4 V261 C20.3,259.3 19,258.6 17.2,258.5 C13.2,258.2 6,258.2 2,258.5 C0.2,258.6 -1.1,259.3 -1.1,261 Z" fill="#3a6dd6"/>
</g>
<g transform="translate(1128.7,0)">
<path d="M0,273 H19.2 V332.6 C19.2,334.6 15,335.7 9.6,335.7 C4.2,335.7 0,334.6 0,332.6 Z" fill="url(#tb)"/>
<rect x="0" y="274" width="19.2" height="17" fill="#d9dde0" opacity="0.6"/>
<path d="M0,276.6 Q9.6,278.2 19.2,276.6 M0,278.8 Q9.6,280.4 19.2,278.8" fill="none" stroke="#c3c9cd" stroke-width="0.6"/>
<rect x="4.0" y="281.5" width="0.6" height="9" fill="#e8ebed" opacity="0.8"/>
<rect x="6.0" y="281.5" width="0.6" height="9" fill="#e8ebed" opacity="0.8"/>
<rect x="8.0" y="281.5" width="0.6" height="9" fill="#e8ebed" opacity="0.8"/>
<rect x="10.0" y="281.5" width="0.6" height="9" fill="#e8ebed" opacity="0.8"/>
<rect x="12.0" y="281.5" width="0.6" height="9" fill="#e8ebed" opacity="0.8"/>
<rect x="14.0" y="281.5" width="0.6" height="9" fill="#e8ebed" opacity="0.8"/>
<rect x="0" y="290.8" width="19.2" height="0.6" fill="#cfd4d8"/>
<path d="M0,329.4 H19.2 V332.6 C19.2,334.6 15,335.7 9.6,335.7 C4.2,335.7 0,334.6 0,332.6 Z" fill="#d6dadd"/>
<path d="M1.5,329.4 H15.5 L9.2,334.6 Z" fill="#e4e7ea"/>
<rect x="-0.7" y="271.4" width="20.6" height="2.7" rx="1.1" fill="#f4f5f6" stroke="#d2d6d9" stroke-width="0.5"/>
<path d="M-1.1,261 C-1.1,259.3 0.2,258.6 2,258.5 C6,258.2 13.2,258.2 17.2,258.5 C19,258.6 20.3,259.3 20.3,261 V270.6 C20.3,271.9 15.7,272.6 9.6,272.6 C3.5,272.6 -1.1,271.9 -1.1,270.6 Z" fill="url(#cap)"/>
<rect x="1.00" y="262.5" width="0.7" height="9.4" fill="#2550b0" opacity="0.45"/>
<rect x="3.05" y="262.5" width="0.7" height="9.4" fill="#2550b0" opacity="0.45"/>
<rect x="5.10" y="262.5" width="0.7" height="9.4" fill="#2550b0" opacity="0.45"/>
<rect x="7.15" y="262.5" width="0.7" height="9.4" fill="#2550b0" opacity="0.45"/>
<rect x="9.20" y="262.5" width="0.7" height="9.4" fill="#2550b0" opacity="0.45"/>
<rect x="11.25" y="262.5" width="0.7" height="9.4" fill="#2550b0" opacity="0.45"/>
<rect x="13.30" y="262.5" width="0.7" height="9.4" fill="#2550b0" opacity="0.45"/>
<rect x="15.35" y="262.5" width="0.7" height="9.4" fill="#2550b0" opacity="0.45"/>
<rect x="17.40" y="262.5" width="0.7" height="9.4" fill="#2550b0" opacity="0.45"/>
<path d="M-1.1,261.4 C3,262.6 16.2,262.6 20.3,261.4 V261 C20.3,259.3 19,258.6 17.2,258.5 C13.2,258.2 6,258.2 2,258.5 C0.2,258.6 -1.1,259.3 -1.1,261 Z" fill="#3a6dd6"/>
</g>
<line x1="1174.3" y1="299.2" x2="1267.5" y2="299.2" stroke="#707070" stroke-width="4.8"/>
<polygon points="1289.0,299.2 1266.5,310.4 1266.5,287.9" fill="#707070"/>
<ellipse cx="1352.9" cy="270.1" rx="50" ry="51.6" fill="#ced8ea" stroke="#b3b5d6" stroke-width="1"/>
<clipPath id="bcl"><ellipse cx="1352.9" cy="270.1" rx="50" ry="51.6"/></clipPath>
<path d="M1350.1,237.3 Q1354.1,236.8 1357.6,238.6" fill="none" stroke="#93d1b8" stroke-width="4.85" stroke-linecap="round" opacity="0.85"/>
<path d="M1345.9,242.6 Q1347.8,245.7 1351.0,247.6" fill="none" stroke="#93d1b8" stroke-width="4.85" stroke-linecap="round" opacity="0.85"/>
<g clip-path="url(#bcl)">
<path d="M1306.6,263.5 Q1305.8,269.5 1308.0,275.1" fill="none" stroke="#93d1b8" stroke-width="6.17" stroke-linecap="round" opacity="0.8"/>
<path d="M1392.9,259.7 Q1393.8,266.1 1392.0,272.3" fill="none" stroke="#93d1b8" stroke-width="5.95" stroke-linecap="round" opacity="0.8"/>
</g>
<path d="M1348.6,288.0 Q1350.1,291.0 1353.0,292.8" fill="none" stroke="#93d1b8" stroke-width="4.85" stroke-linecap="round" opacity="0.85"/>
<path d="M1341.3,296.4 Q1345.1,296.6 1348.4,298.6" fill="none" stroke="#93d1b8" stroke-width="4.85" stroke-linecap="round" opacity="0.85"/>
<path d="M1342.6,236.8 Q1345.3,233.6 1349.2,235.4" fill="none" stroke="#7fc4c0" stroke-width="0.4" stroke-linecap="round"/>
<path d="M1339.5,240.4 Q1341.9,242.6 1340.3,245.5" fill="none" stroke="#7fc4c0" stroke-width="0.4" stroke-linecap="round"/>
<path d="M1336.6,239.4 Q1335.6,242.8 1332.1,242.8" fill="none" stroke="#7fc4c0" stroke-width="0.4" stroke-linecap="round"/>
<path d="M1336.4,235.3 Q1332.3,235.0 1331.5,231.0" fill="none" stroke="#7fc4c0" stroke-width="0.4" stroke-linecap="round"/>
<path d="M1339.3,235.1 Q1337.7,232.7 1339.6,230.6" fill="none" stroke="#7fc4c0" stroke-width="0.4" stroke-linecap="round"/>
<path d="M1362.9,298.5 Q1366.0,297.2 1368.1,299.9" fill="none" stroke="#7fc4c0" stroke-width="0.4" stroke-linecap="round"/>
<path d="M1361.1,299.3 Q1363.3,300.1 1363.2,302.4" fill="none" stroke="#7fc4c0" stroke-width="0.4" stroke-linecap="round"/>
<path d="M1357.6,298.8 Q1356.1,301.6 1353.1,300.9" fill="none" stroke="#7fc4c0" stroke-width="0.4" stroke-linecap="round"/>
<path d="M1358.4,296.2 Q1355.8,296.0 1355.3,293.5" fill="none" stroke="#7fc4c0" stroke-width="0.4" stroke-linecap="round"/>
<path d="M1361.0,295.3 Q1360.2,292.5 1362.7,290.9" fill="none" stroke="#7fc4c0" stroke-width="0.4" stroke-linecap="round"/>
<path d="M1310.7,281.9 Q1312.7,279.8 1315.2,281.1" fill="none" stroke="#7fc4c0" stroke-width="0.4" stroke-linecap="round"/>
<path d="M1308.4,284.8 Q1310.4,287.0 1308.8,289.5" fill="none" stroke="#7fc4c0" stroke-width="0.4" stroke-linecap="round"/>
<path d="M1306.3,282.1 Q1304.4,283.4 1302.6,281.8" fill="none" stroke="#7fc4c0" stroke-width="0.4" stroke-linecap="round"/>
<path d="M1307.4,279.6 Q1304.8,277.7 1305.9,274.6" fill="none" stroke="#7fc4c0" stroke-width="0.4" stroke-linecap="round"/>
<path d="M1392.6,252.2 Q1394.0,250.8 1395.8,251.7" fill="none" stroke="#7fc4c0" stroke-width="0.4" stroke-linecap="round"/>
<path d="M1391.0,254.2 Q1392.4,255.8 1391.2,257.5" fill="none" stroke="#7fc4c0" stroke-width="0.4" stroke-linecap="round"/>
<path d="M1389.0,253.0 Q1387.6,254.8 1385.4,254.0" fill="none" stroke="#7fc4c0" stroke-width="0.4" stroke-linecap="round"/>
<path d="M1391.5,250.2 Q1390.4,247.7 1392.6,245.9" fill="none" stroke="#7fc4c0" stroke-width="0.4" stroke-linecap="round"/>
<path d="M1313.8,235.0 Q1316.1,233.5 1318.1,235.3" fill="none" stroke="#7fc4c0" stroke-width="0.4" stroke-linecap="round"/>
<path d="M1311.1,237.3 Q1312.4,239.9 1310.3,241.9" fill="none" stroke="#7fc4c0" stroke-width="0.4" stroke-linecap="round"/>
<path d="M1309.1,234.5 Q1306.6,235.9 1304.5,233.8" fill="none" stroke="#7fc4c0" stroke-width="0.4" stroke-linecap="round"/>
<path d="M1311.0,232.9 Q1309.0,231.5 1309.9,229.2" fill="none" stroke="#7fc4c0" stroke-width="0.4" stroke-linecap="round"/>
<path d="M1367.77,262.19 L1368.57,262.18 L1369.34,262.14 L1370.07,262.02 L1370.74,261.82 L1371.33,261.50 L1371.84,261.07 L1372.28,260.52 L1372.65,259.89 L1372.98,259.18 L1373.28,258.44 L1373.58,257.70 L1373.91,256.99 L1374.28,256.36 L1374.72,255.81 L1375.23,255.38 L1375.82,255.06 L1376.49,254.86 L1377.22,254.74 L1377.99,254.70 L1378.79,254.69 L1379.59,254.68 L1380.37,254.64 L1381.10,254.53 L1381.76,254.32 L1382.36,254.00 L1382.87,253.57 L1383.30,253.03 L1383.68,252.39 L1384.00,251.68 L1384.31,250.94 L1384.61,250.20 L1384.93,249.50 L1385.31,248.86 L1385.74,248.32 L1386.26,247.88 L1386.85,247.57 L1387.51,247.36 L1388.24,247.25 L1389.02,247.20 L1389.82,247.19" fill="none" stroke="#a9c3dc" stroke-width="2.0" stroke-linecap="round" stroke-linejoin="round" opacity="0.9"/>
<path d="M1315.73,284.24 L1316.29,284.21 L1316.84,284.17 L1317.37,284.11 L1317.87,284.00 L1318.34,283.85 L1318.76,283.64 L1319.15,283.38 L1319.49,283.05 L1319.79,282.67 L1320.06,282.24 L1320.29,281.77 L1320.50,281.26 L1320.70,280.74 L1320.89,280.21 L1321.09,279.70 L1321.31,279.20 L1321.55,278.74 L1321.83,278.33 L1322.14,277.96 L1322.50,277.66 L1322.90,277.41 L1323.34,277.22 L1323.82,277.09 L1324.33,277.00 L1324.87,276.94 L1325.42,276.91 L1325.98,276.88 L1326.54,276.85 L1327.09,276.80 L1327.61,276.73 L1328.10,276.61 L1328.55,276.44 L1328.97,276.21 L1329.34,275.92 L1329.66,275.58 L1329.95,275.18 L1330.21,274.73 L1330.43,274.25 L1330.64,273.74 L1330.83,273.21" fill="none" stroke="#a9c3dc" stroke-width="2.0" stroke-linecap="round" stroke-linejoin="round" opacity="0.9"/>
<path d="M1342.63,250.50 L1342.98,251.07 L1343.34,251.60 L1343.72,252.06 L1344.14,252.40 L1344.60,252.61 L1345.10,252.70 L1345.64,252.65 L1346.22,252.50 L1346.81,252.26 L1347.43,251.99 L1348.04,251.72 L1348.63,251.48 L1349.21,251.33 L1349.75,251.28 L1350.25,251.37 L1350.71,251.58 L1351.13,251.92 L1351.51,252.38 L1351.87,252.91 L1352.22,253.48 L1352.57,254.05 L1352.93,254.58 L1353.32,255.03 L1353.74,255.38 L1354.19,255.59 L1354.70,255.67 L1355.24,255.63 L1355.81,255.47 L1356.41,255.24 L1357.02,254.97 L1357.63,254.69 L1358.23,254.46 L1358.80,254.31 L1359.34,254.26 L1359.84,254.34 L1360.30,254.56 L1360.72,254.90 L1361.10,255.35 L1361.47,255.88 L1361.81,256.46" fill="none" stroke="#5d93b9" stroke-width="2.1" stroke-linecap="round" stroke-linejoin="round" opacity="1.0"/>
<path d="M1338.66,280.05 L1338.97,280.48 L1339.29,280.89 L1339.62,281.28 L1339.96,281.62 L1340.33,281.90 L1340.71,282.12 L1341.12,282.26 L1341.55,282.35 L1342.00,282.36 L1342.47,282.31 L1342.96,282.22 L1343.46,282.09 L1343.97,281.94 L1344.48,281.78 L1344.98,281.64 L1345.48,281.52 L1345.96,281.44 L1346.43,281.41 L1346.87,281.45 L1347.30,281.55 L1347.69,281.72 L1348.07,281.96 L1348.43,282.27 L1348.76,282.62 L1349.09,283.02 L1349.40,283.44 L1349.72,283.87 L1350.03,284.30 L1350.35,284.70 L1350.68,285.07 L1351.03,285.39 L1351.40,285.65 L1351.79,285.85 L1352.21,285.97 L1352.65,286.03 L1353.10,286.03 L1353.58,285.96 L1354.08,285.86 L1354.58,285.72 L1355.09,285.56" fill="none" stroke="#5d93b9" stroke-width="2.1" stroke-linecap="round" stroke-linejoin="round" opacity="1.0"/>
<path d="M1355.1,285.6 Q1355.1,285.6 1357.0,284.9 Q1358.9,284.2 1360.6,284.9 Q1362.3,285.6 1363.9,285.5 L1365.6,285.3" fill="none" stroke="#4f85ab" stroke-width="0.7" stroke-linecap="round" opacity="1.0"/>
<path d="M1332.5,250.1 Q1332.5,250.1 1334.7,250.7 Q1336.9,251.4 1339.8,250.9 L1342.6,250.5" fill="none" stroke="#4f85ab" stroke-width="0.7" stroke-linecap="round" opacity="1.0"/>
<path d="M1333.0,249.2 Q1333.0,249.2 1335.8,249.3 Q1338.6,249.4 1340.6,250.0 L1342.6,250.5" fill="none" stroke="#4f85ab" stroke-width="0.5" stroke-linecap="round" opacity="1.0"/>
<path d="M1337.9,259.1 Q1342.7,255.7 1347.2,259.5" fill="none" stroke="#3f8f9c" stroke-width="0.45" stroke-linecap="round"/>
<path d="M1336.5,261.5 Q1341.8,261.3 1343.4,266.4" fill="none" stroke="#3f8f9c" stroke-width="0.45" stroke-linecap="round"/>
<path d="M1334.2,264.7 Q1339.7,269.0 1336.9,275.4" fill="none" stroke="#3f8f9c" stroke-width="0.45" stroke-linecap="round"/>
<path d="M1331.8,263.2 Q1333.9,267.9 1329.9,271.2" fill="none" stroke="#3f8f9c" stroke-width="0.45" stroke-linecap="round"/>
<path d="M1329.6,262.5 Q1329.2,268.1 1323.7,269.2" fill="none" stroke="#3f8f9c" stroke-width="0.45" stroke-linecap="round"/>
<path d="M1327.1,261.5 Q1323.8,268.0 1316.6,266.4" fill="none" stroke="#3f8f9c" stroke-width="0.45" stroke-linecap="round"/>
<path d="M1329.3,256.6 Q1324.5,256.9 1322.9,252.3" fill="none" stroke="#3f8f9c" stroke-width="0.45" stroke-linecap="round"/>
<path d="M1330.2,254.1 Q1324.4,251.5 1325.4,245.2" fill="none" stroke="#3f8f9c" stroke-width="0.45" stroke-linecap="round"/>
<path d="M1331.8,254.3 Q1327.6,250.7 1330.0,245.7" fill="none" stroke="#3f8f9c" stroke-width="0.45" stroke-linecap="round"/>
<path d="M1335.4,254.5 Q1334.7,248.5 1340.2,246.3" fill="none" stroke="#3f8f9c" stroke-width="0.45" stroke-linecap="round"/>
<path d="M1337.8,256.4 Q1340.7,250.5 1347.1,251.8" fill="none" stroke="#3f8f9c" stroke-width="0.45" stroke-linecap="round"/>
<path d="M1377.2,276.8 Q1382.0,272.8 1387.1,276.5" fill="none" stroke="#3f8f9c" stroke-width="0.45" stroke-linecap="round"/>
<path d="M1375.3,280.7 Q1381.2,281.8 1381.8,287.7" fill="none" stroke="#3f8f9c" stroke-width="0.45" stroke-linecap="round"/>
<path d="M1374.1,281.9 Q1379.7,284.9 1378.2,291.1" fill="none" stroke="#3f8f9c" stroke-width="0.45" stroke-linecap="round"/>
<path d="M1372.1,282.2 Q1376.1,286.9 1372.5,291.9" fill="none" stroke="#3f8f9c" stroke-width="0.45" stroke-linecap="round"/>
<path d="M1367.7,281.1 Q1366.7,287.9 1359.9,288.8" fill="none" stroke="#3f8f9c" stroke-width="0.45" stroke-linecap="round"/>
<path d="M1367.7,279.4 Q1365.6,284.5 1360.1,283.8" fill="none" stroke="#3f8f9c" stroke-width="0.45" stroke-linecap="round"/>
<path d="M1365.9,276.7 Q1360.3,280.7 1354.9,276.3" fill="none" stroke="#3f8f9c" stroke-width="0.45" stroke-linecap="round"/>
<path d="M1369.5,273.5 Q1364.9,272.0 1365.2,267.2" fill="none" stroke="#3f8f9c" stroke-width="0.45" stroke-linecap="round"/>
<path d="M1372.8,270.7 Q1369.2,264.3 1374.5,259.2" fill="none" stroke="#3f8f9c" stroke-width="0.45" stroke-linecap="round"/>
<path d="M1374.6,272.2 Q1373.7,265.9 1379.6,263.4" fill="none" stroke="#3f8f9c" stroke-width="0.45" stroke-linecap="round"/>
<path d="M1374.8,274.1 Q1375.4,269.4 1380.2,268.8" fill="none" stroke="#3f8f9c" stroke-width="0.45" stroke-linecap="round"/>
<path d="M1381.4,241.2 Q1385.9,237.6 1390.4,241.0" fill="none" stroke="#3f8f9c" stroke-width="0.45" stroke-linecap="round"/>
<path d="M1379.4,243.8 Q1383.9,244.1 1384.7,248.5" fill="none" stroke="#3f8f9c" stroke-width="0.45" stroke-linecap="round"/>
<path d="M1379.0,244.7 Q1383.8,246.3 1383.5,251.2" fill="none" stroke="#3f8f9c" stroke-width="0.45" stroke-linecap="round"/>
<path d="M1375.7,246.3 Q1378.4,251.6 1374.0,255.7" fill="none" stroke="#3f8f9c" stroke-width="0.45" stroke-linecap="round"/>
<path d="M1372.5,243.6 Q1370.3,248.6 1364.8,247.9" fill="none" stroke="#3f8f9c" stroke-width="0.45" stroke-linecap="round"/>
<path d="M1371.8,241.1 Q1367.1,244.4 1362.8,240.8" fill="none" stroke="#3f8f9c" stroke-width="0.45" stroke-linecap="round"/>
<path d="M1372.6,239.5 Q1367.6,240.7 1365.1,236.2" fill="none" stroke="#3f8f9c" stroke-width="0.45" stroke-linecap="round"/>
<path d="M1374.0,236.6 Q1368.2,234.2 1369.1,228.0" fill="none" stroke="#3f8f9c" stroke-width="0.45" stroke-linecap="round"/>
<path d="M1376.8,236.1 Q1373.4,231.1 1377.3,226.5" fill="none" stroke="#3f8f9c" stroke-width="0.45" stroke-linecap="round"/>
<path d="M1379.7,237.5 Q1379.9,231.7 1385.5,230.4" fill="none" stroke="#3f8f9c" stroke-width="0.45" stroke-linecap="round"/>
<path d="M1328.7,293.6 Q1332.9,289.2 1338.3,292.2" fill="none" stroke="#3f8f9c" stroke-width="0.45" stroke-linecap="round"/>
<path d="M1327.6,298.2 Q1334.2,298.7 1335.3,305.2" fill="none" stroke="#3f8f9c" stroke-width="0.45" stroke-linecap="round"/>
<path d="M1325.5,298.1 Q1330.1,300.1 1329.3,305.1" fill="none" stroke="#3f8f9c" stroke-width="0.45" stroke-linecap="round"/>
<path d="M1323.0,298.6 Q1325.6,302.9 1322.2,306.5" fill="none" stroke="#3f8f9c" stroke-width="0.45" stroke-linecap="round"/>
<path d="M1319.9,296.3 Q1317.9,300.6 1313.2,299.8" fill="none" stroke="#3f8f9c" stroke-width="0.45" stroke-linecap="round"/>
<path d="M1319.2,294.3 Q1315.2,297.3 1311.3,294.2" fill="none" stroke="#3f8f9c" stroke-width="0.45" stroke-linecap="round"/>
<path d="M1319.3,292.1 Q1313.9,292.9 1311.7,287.9" fill="none" stroke="#3f8f9c" stroke-width="0.45" stroke-linecap="round"/>
<path d="M1322.9,289.3 Q1318.7,285.0 1321.8,279.9" fill="none" stroke="#3f8f9c" stroke-width="0.45" stroke-linecap="round"/>
<path d="M1323.5,290.0 Q1320.5,285.9 1323.7,281.9" fill="none" stroke="#3f8f9c" stroke-width="0.45" stroke-linecap="round"/>
<path d="M1327.2,290.2 Q1327.7,283.5 1334.2,282.3" fill="none" stroke="#3f8f9c" stroke-width="0.45" stroke-linecap="round"/>
<path d="M1318.0,243.6 Q1321.1,239.8 1325.5,241.8" fill="none" stroke="#3f8f9c" stroke-width="0.45" stroke-linecap="round"/>
<path d="M1316.5,248.4 Q1321.5,250.1 1321.1,255.5" fill="none" stroke="#3f8f9c" stroke-width="0.45" stroke-linecap="round"/>
<path d="M1313.7,247.9 Q1315.8,251.3 1313.1,254.2" fill="none" stroke="#3f8f9c" stroke-width="0.45" stroke-linecap="round"/>
<path d="M1310.1,245.8 Q1307.3,249.7 1302.8,248.1" fill="none" stroke="#3f8f9c" stroke-width="0.45" stroke-linecap="round"/>
<path d="M1310.1,243.2 Q1305.5,244.8 1302.8,240.7" fill="none" stroke="#3f8f9c" stroke-width="0.45" stroke-linecap="round"/>
<path d="M1312.8,240.4 Q1308.7,237.5 1310.5,232.8" fill="none" stroke="#3f8f9c" stroke-width="0.45" stroke-linecap="round"/>
<path d="M1315.4,241.5 Q1314.6,237.7 1318.1,235.9" fill="none" stroke="#3f8f9c" stroke-width="0.45" stroke-linecap="round"/>
<path d="M1388.0,292.3 Q1391.5,290.9 1393.8,294.0" fill="none" stroke="#3f8f9c" stroke-width="0.45" stroke-linecap="round"/>
<path d="M1386.6,294.5 Q1390.5,296.0 1390.0,300.1" fill="none" stroke="#3f8f9c" stroke-width="0.45" stroke-linecap="round"/>
<path d="M1383.2,294.3 Q1383.8,298.0 1380.2,299.5" fill="none" stroke="#3f8f9c" stroke-width="0.45" stroke-linecap="round"/>
<path d="M1380.5,292.4 Q1377.1,296.4 1372.3,294.2" fill="none" stroke="#3f8f9c" stroke-width="0.45" stroke-linecap="round"/>
<path d="M1380.8,288.3 Q1374.9,288.2 1373.4,282.4" fill="none" stroke="#3f8f9c" stroke-width="0.45" stroke-linecap="round"/>
<path d="M1383.4,287.8 Q1379.5,285.5 1380.8,281.1" fill="none" stroke="#3f8f9c" stroke-width="0.45" stroke-linecap="round"/>
<path d="M1387.5,288.8 Q1388.2,284.4 1392.6,283.9" fill="none" stroke="#3f8f9c" stroke-width="0.45" stroke-linecap="round"/>
<path d="M1361.2,264.6 Q1361.2,264.6 1360.6,266.3 Q1360.0,267.9 1358.4,268.7 Q1356.7,269.6 1355.9,271.2 L1355.1,272.9" fill="none" stroke="#446f86" stroke-width="0.5" stroke-linecap="round" opacity="1.0"/>
<path d="M1383.2,296.6 Q1383.2,296.6 1382.4,298.5 Q1381.5,300.4 1380.2,301.3 Q1378.8,302.1 1378.0,303.5 L1377.1,304.9" fill="none" stroke="#446f86" stroke-width="0.5" stroke-linecap="round" opacity="1.0"/>
<path d="M1339.1,271.2 Q1339.1,271.2 1339.4,269.0 Q1339.7,266.8 1341.0,265.7 L1342.4,264.6" fill="none" stroke="#446f86" stroke-width="0.5" stroke-linecap="round" opacity="1.0"/>
<path d="M1324.2,266.3 Q1324.2,266.3 1325.0,264.3 Q1325.9,262.4 1327.0,261.6 L1328.1,260.8" fill="none" stroke="#446f86" stroke-width="0.5" stroke-linecap="round" opacity="1.0"/>
<path d="M1374.4,270.1 Q1374.4,270.1 1374.1,271.2 Q1373.8,272.3 1373.3,273.4 L1372.7,274.5" fill="none" stroke="#446f86" stroke-width="0.5" stroke-linecap="round" opacity="1.0"/>
<path d="M1368.9,243.9 Q1368.9,243.9 1367.2,245.2 Q1365.6,246.4 1364.5,247.8 L1363.4,249.2" fill="none" stroke="#446f86" stroke-width="0.5" stroke-linecap="round" opacity="1.0"/>
<path d="M1330.3,292.2 Q1330.3,292.2 1331.9,290.2 Q1333.6,288.3 1334.7,287.5 L1335.8,286.7" fill="none" stroke="#446f86" stroke-width="0.5" stroke-linecap="round" opacity="1.0"/>
<rect x="-6.17" y="-2.21" width="12.35" height="4.41" rx="2.21" fill="#1f9ba6" opacity="1.0" transform="translate(1332.8,258.9) rotate(0)"/>
<rect x="-6.17" y="-2.21" width="12.35" height="4.41" rx="2.21" fill="#1f9ba6" opacity="1.0" transform="translate(1371.8,277.0) rotate(0)"/>
<rect x="-5.51" y="-2.32" width="11.03" height="4.63" rx="2.32" fill="#22608c" opacity="1.0" transform="translate(1314.0,244.5) rotate(-70)"/>
<rect x="-3.86" y="-1.10" width="7.72" height="2.21" rx="1.10" fill="#2b9aa8" opacity="0.8" transform="translate(1315.9,246.1) rotate(-70)"/>
<rect x="-5.51" y="-2.21" width="11.03" height="4.41" rx="2.21" fill="#1d5a88" opacity="1.0" transform="translate(1321.7,271.4) rotate(-70)"/>
<rect x="-5.51" y="-2.21" width="11.03" height="4.41" rx="2.21" fill="#2a6a96" opacity="1.0" transform="translate(1336.9,276.5) rotate(-70)"/>
<rect x="-5.51" y="-2.21" width="11.03" height="4.41" rx="2.21" fill="#3a6f9b" opacity="1.0" transform="translate(1361.9,259.1) rotate(-70)"/>
<rect x="-5.51" y="-2.21" width="11.03" height="4.41" rx="2.21" fill="#1d5a88" opacity="1.0" transform="translate(1377.0,264.1) rotate(-70)"/>
<rect x="-5.51" y="-2.21" width="11.03" height="4.41" rx="2.21" fill="#22608c" opacity="1.0" transform="translate(1384.9,291.4) rotate(-70)"/>
<rect x="-3.31" y="-1.10" width="6.62" height="2.21" rx="1.10" fill="#6fc0c0" opacity="0.7" transform="translate(1383.0,288.6) rotate(-70)"/>
<rect x="-6.89" y="-2.21" width="13.78" height="4.41" rx="2.21" fill="#1f9ba6" opacity="1.0" transform="translate(1374.9,241.2) rotate(-20)"/>
<rect x="-5.79" y="-2.09" width="11.58" height="4.19" rx="2.09" fill="#1d5a88" opacity="1.0" transform="translate(1376.8,241.0) rotate(-20)"/>
<rect x="-6.89" y="-2.21" width="13.78" height="4.41" rx="2.21" fill="#1d5a88" opacity="1.0" transform="translate(1323.4,294.4) rotate(-10)"/>
<rect x="-6.06" y="-1.21" width="12.13" height="2.43" rx="1.21" fill="#1f9ba6" opacity="1.0" transform="translate(1323.9,293.5) rotate(-10)"/>
<line x1="1442.6" y1="414.8" x2="1442.6" y2="605.0" stroke="#707070" stroke-width="5"/>
<polygon points="1442.6,627.0 1431.1,604.0 1454.1,604.0" fill="#707070"/>
<line x1="873" y1="566.8" x2="1362" y2="566.8" stroke="#707070" stroke-width="3"/>
<line x1="604" y1="566.8" x2="873" y2="566.8" stroke="#942020" stroke-width="8.8"/>
<circle cx="604.7" cy="566.8" r="22.7" fill="#942020"/>
<circle cx="689" cy="566.8" r="8.9" fill="#942020"/>
<circle cx="784.6" cy="566.8" r="9.3" fill="#15528b"/>
<circle cx="873.2" cy="566.8" r="10" fill="#15528b"/>
<circle cx="962.9" cy="566.8" r="10" fill="#15528b"/>
<circle cx="1052.6" cy="566.8" r="10" fill="#15528b"/>
<circle cx="1137.8" cy="566.8" r="10" fill="#15528b"/>
<circle cx="1245.3" cy="566.5" r="22.7" fill="#81878a"/>
<circle cx="1361.8" cy="566.5" r="22.7" fill="#81878a"/>
<text x="581.2" y="613.2" font-size="14.1" font-weight="normal" fill="#1a1a1a" stroke="#1a1a1a" stroke-width="0.22" textLength="47.0" lengthAdjust="spacingAndGlyphs" >week -3</text>
<text x="664.8" y="613.2" font-size="14.1" font-weight="normal" fill="#1a1a1a" stroke="#1a1a1a" stroke-width="0.22" textLength="47.2" lengthAdjust="spacingAndGlyphs" >week -2</text>
<text x="764.2" y="613.2" font-size="14.1" font-weight="normal" fill="#1a1a1a" stroke="#1a1a1a" stroke-width="0.22" textLength="36.6" lengthAdjust="spacingAndGlyphs" >day -7</text>
<text x="854.8" y="613.2" font-size="14.1" font-weight="normal" fill="#1a1a1a" stroke="#1a1a1a" stroke-width="0.22" textLength="32.6" lengthAdjust="spacingAndGlyphs" >day 0</text>
<text x="946.0" y="613.2" font-size="14.1" font-weight="normal" fill="#1a1a1a" stroke="#1a1a1a" stroke-width="0.22" textLength="33.0" lengthAdjust="spacingAndGlyphs" >day 7</text>
<text x="1032.2" y="613.2" font-size="14.1" font-weight="normal" fill="#1a1a1a" stroke="#1a1a1a" stroke-width="0.22" textLength="40.8" lengthAdjust="spacingAndGlyphs" >day 14</text>
<text x="1115.8" y="613.2" font-size="14.1" font-weight="normal" fill="#1a1a1a" stroke="#1a1a1a" stroke-width="0.22" textLength="40.8" lengthAdjust="spacingAndGlyphs" >day 28</text>
<text x="1214.4" y="613.2" font-size="14.1" font-weight="normal" fill="#1a1a1a" stroke="#1a1a1a" stroke-width="0.22" textLength="50.8" lengthAdjust="spacingAndGlyphs" >month 3</text>
<text x="1337.0" y="613.2" font-size="14.1" font-weight="normal" fill="#1a1a1a" stroke="#1a1a1a" stroke-width="0.22" textLength="51.2" lengthAdjust="spacingAndGlyphs" >month 6</text>
<text x="787.0" y="457.2" font-size="19.7" font-weight="bold" fill="#737373" stroke="#737373" stroke-width="0.4" textLength="172.4" lengthAdjust="spacingAndGlyphs" >CAR T-cell infusion</text>
<text x="1187.4" y="457.0" font-size="19.7" font-weight="bold" fill="#848b8d" stroke="#848b8d" stroke-width="0.4" textLength="204.0" lengthAdjust="spacingAndGlyphs" >Response assessment</text>
<text x="649.8" y="509.8" font-size="19.7" font-weight="bold" fill="#942020" stroke="#942020" stroke-width="0.4" textLength="162.4" lengthAdjust="spacingAndGlyphs" >Data collection on</text>
<text x="617.4" y="533.0" font-size="19.7" font-weight="bold" fill="#942020" stroke="#942020" stroke-width="0.4" textLength="226.6" lengthAdjust="spacingAndGlyphs" >prior antibiotic treatment</text>
<line x1="872.9" y1="468.3" x2="872.9" y2="530.8" stroke="#727272" stroke-width="1.7"/>
<polygon points="872.9,540.0 867.5,529.8 878.3,529.8" fill="#727272"/>
<line x1="1245.2" y1="468.4" x2="1245.2" y2="530.6" stroke="#858c8e" stroke-width="1.6"/>
<polygon points="1245.2,539.8 1239.8,529.6 1250.6,529.6" fill="#858c8e"/>
<line x1="1361.8" y1="468.4" x2="1361.8" y2="530.6" stroke="#858c8e" stroke-width="1.6"/>
<polygon points="1361.8,539.8 1356.4,529.6 1367.2,529.6" fill="#858c8e"/>
<g>
<path d="M884.1,479.2 C884.1,476.6 887.4,475.2 891.5,475.2 C895.6,475.2 898.8,476.6 898.8,479.2 V500.5 L899.2,503 C897,504.2 894.5,504.4 891.5,504.4 C888.5,504.4 886,504.2 883.8,503 L884.1,500.5 Z" fill="#d6e9f3"/>
<path d="M884.8,484.1 H898.2 V500.6 C898.6,501.8 898.6,502.5 898.4,503 C896.5,504 894,504.2 891.5,504.2 C889,504.2 886.5,504 884.6,503 C884.4,502.5 884.4,501.8 884.8,500.6 Z" fill="#a9cfdc"/>
<path d="M894.2,484.1 H898.2 V500.6 C898.6,501.8 898.6,502.5 898.4,503 C897,503.6 895.6,503.9 894.2,504 Z" fill="#8fbdcc"/>
<rect x="887.2" y="485" width="1.4" height="11.5" rx="0.7" fill="#cfe6ef"/>
<ellipse cx="891.5" cy="478.1" rx="1.1" ry="1.2" fill="#fff"/>
<rect x="889.1" y="504" width="1.9" height="5.2" fill="#bcdbe8"/>
<rect x="892.5" y="504" width="1.9" height="6" fill="#bcdbe8"/>
<path d="M892.6,509.5 H894.3 L893.7,514 H893.2 Z" fill="#2379b5"/>
<rect x="889.3" y="508.6" width="1.4" height="1.2" fill="#d8a9a0"/>
</g>
<circle cx="923.6" cy="487.9" r="18" fill="#f1fcfd" stroke="#707070" stroke-width="1"/>
<path d="M899.9,486.7 L904.5,482.1 M895.3,491.6 L899.6,494.5 M904.8,497 L909.7,500" stroke="#7a7a7a" stroke-width="0.9" fill="none" stroke-linecap="round"/>
<line x1="921.7" y1="487.0" x2="923.1" y2="488.2" stroke="#2a7ab8" stroke-width="0.9"/>
<line x1="918.0" y1="488.2" x2="917.7" y2="490.0" stroke="#2a7ab8" stroke-width="0.9"/>
<line x1="915.1" y1="485.6" x2="913.4" y2="486.2" stroke="#2a7ab8" stroke-width="0.9"/>
<line x1="915.9" y1="481.8" x2="914.5" y2="480.6" stroke="#2a7ab8" stroke-width="0.9"/>
<line x1="919.6" y1="480.6" x2="919.9" y2="478.8" stroke="#2a7ab8" stroke-width="0.9"/>
<line x1="922.5" y1="483.2" x2="924.2" y2="482.6" stroke="#2a7ab8" stroke-width="0.9"/>
<circle cx="918.8" cy="484.4" r="3.9" fill="#8cc6a0" opacity="0.6"/>
<circle cx="918.8" cy="484.4" r="3.3" fill="#6fb088"/>
<line x1="931.2" y1="481.8" x2="932.7" y2="482.7" stroke="#2a7ab8" stroke-width="0.9"/>
<line x1="928.7" y1="483.2" x2="928.6" y2="485.0" stroke="#2a7ab8" stroke-width="0.9"/>
<line x1="926.2" y1="481.7" x2="924.6" y2="482.6" stroke="#2a7ab8" stroke-width="0.9"/>
<line x1="926.2" y1="478.8" x2="924.7" y2="477.9" stroke="#2a7ab8" stroke-width="0.9"/>
<line x1="928.7" y1="477.4" x2="928.8" y2="475.6" stroke="#2a7ab8" stroke-width="0.9"/>
<line x1="931.2" y1="478.9" x2="932.8" y2="478.0" stroke="#2a7ab8" stroke-width="0.9"/>
<circle cx="928.7" cy="480.3" r="2.9" fill="#8cc6a0" opacity="0.6"/>
<circle cx="928.7" cy="480.3" r="2.3" fill="#6fb088"/>
<line x1="931.8" y1="494.8" x2="933.3" y2="495.8" stroke="#2a7ab8" stroke-width="0.9"/>
<line x1="928.7" y1="496.5" x2="928.7" y2="498.3" stroke="#2a7ab8" stroke-width="0.9"/>
<line x1="925.7" y1="494.7" x2="924.1" y2="495.5" stroke="#2a7ab8" stroke-width="0.9"/>
<line x1="925.8" y1="491.2" x2="924.3" y2="490.2" stroke="#2a7ab8" stroke-width="0.9"/>
<line x1="928.9" y1="489.5" x2="928.9" y2="487.7" stroke="#2a7ab8" stroke-width="0.9"/>
<line x1="931.9" y1="491.3" x2="933.5" y2="490.5" stroke="#2a7ab8" stroke-width="0.9"/>
<circle cx="928.8" cy="493.0" r="3.5" fill="#8cc6a0" opacity="0.6"/>
<circle cx="928.8" cy="493.0" r="2.9" fill="#6fb088"/>
<ellipse cx="651.3" cy="758.3" rx="49.7" ry="51.4" fill="#d6d3e2" stroke="#b4b3cc" stroke-width="1"/>
<circle cx="656" cy="759" r="72" fill="url(#glow)"/>
<ellipse cx="651.3" cy="758.3" rx="49.7" ry="51.4" fill="none" stroke="#b6b2cf" stroke-width="0.9" opacity="0.8"/>
<circle cx="671.1" cy="716.5" r="2.05" fill="#bf212a" opacity="0.45"/>
<circle cx="663.4" cy="727.3" r="2.05" fill="#bf212a" opacity="0.5"/>
<circle cx="650.8" cy="729.0" r="2.05" fill="#bf212a" opacity="0.9"/>
<circle cx="682.4" cy="731.3" r="2.05" fill="#bf212a" opacity="0.9"/>
<circle cx="659.0" cy="740.5" r="2.05" fill="#bf212a" opacity="0.85"/>
<circle cx="674.0" cy="741.7" r="2.05" fill="#bf212a" opacity="0.8"/>
<circle cx="640.1" cy="741.2" r="2.05" fill="#bf212a" opacity="0.7"/>
<circle cx="649.8" cy="745.8" r="2.05" fill="#bf212a" opacity="0.9"/>
<circle cx="665.4" cy="755.5" r="2.05" fill="#bf212a" opacity="1"/>
<circle cx="678.0" cy="756.7" r="2.05" fill="#bf212a" opacity="0.5"/>
<circle cx="619.6" cy="757.2" r="2.05" fill="#bf212a" opacity="0.9"/>
<circle cx="647.5" cy="757.5" r="2.05" fill="#bf212a" opacity="0.9"/>
<circle cx="608.8" cy="764.0" r="2.05" fill="#bf212a" opacity="0.9"/>
<circle cx="620.5" cy="763.9" r="2.05" fill="#bf212a" opacity="0.9"/>
<circle cx="615.5" cy="767.1" r="2.05" fill="#bf212a" opacity="0.9"/>
<circle cx="639.5" cy="765.0" r="2.05" fill="#bf212a" opacity="0.9"/>
<circle cx="659.4" cy="765.1" r="2.05" fill="#bf212a" opacity="0.95"/>
<circle cx="674.0" cy="765.1" r="2.05" fill="#bf212a" opacity="0.9"/>
<circle cx="686.4" cy="769.2" r="2.05" fill="#bf212a" opacity="0.85"/>
<circle cx="629.1" cy="771.3" r="2.05" fill="#bf212a" opacity="0.9"/>
<circle cx="638.7" cy="775.0" r="2.05" fill="#bf212a" opacity="0.85"/>
<circle cx="661.1" cy="775.6" r="2.05" fill="#bf212a" opacity="0.95"/>
<circle cx="678.0" cy="777.9" r="2.05" fill="#bf212a" opacity="0.5"/>
<circle cx="654.0" cy="786.7" r="2.05" fill="#bf212a" opacity="0.5"/>
<circle cx="675.2" cy="790.7" r="2.05" fill="#bf212a" opacity="0.45"/>
<circle cx="679.8" cy="799.1" r="2.05" fill="#bf212a" opacity="0.45"/>
<circle cx="635.2" cy="747.8" r="7.6" fill="#f28a98" opacity="0.82"/>
<path d="M632.2,746.8 q1.5,-3 4,-1.5 q2.5,1.5 1.5,4 q-1.5,2.5 -3.5,1 q-1,2 -2.5,0.5 q-1,-2 0.5,-4 z" fill="#e06a7c" opacity="0.7"/>
<circle cx="652.9" cy="752.1" r="7.6" fill="#ef7f8e" opacity="0.82"/>
<path d="M649.9,751.1 q1.5,-3 4,-1.5 q2.5,1.5 1.5,4 q-1.5,2.5 -3.5,1 q-1,2 -2.5,0.5 q-1,-2 0.5,-4 z" fill="#d96277" opacity="0.7"/>
<circle cx="630.9" cy="763.6" r="7.5" fill="#e59ab8" opacity="0.82"/>
<path d="M627.9,762.6 q1.5,-3 4,-1.5 q2.5,1.5 1.5,4 q-1.5,2.5 -3.5,1 q-1,2 -2.5,0.5 q-1,-2 0.5,-4 z" fill="#d27e9e" opacity="0.7"/>
<circle cx="646.6" cy="766.7" r="7.0" fill="#e48aa8" opacity="0.82"/>
<path d="M643.6,765.7 q1.5,-3 4,-1.5 q2.5,1.5 1.5,4 q-1.5,2.5 -3.5,1 q-1,2 -2.5,0.5 q-1,-2 0.5,-4 z" fill="#cf6a8c" opacity="0.7"/>
<ellipse cx="811.2" cy="758.3" rx="49.7" ry="51.4" fill="#cdd8ea" stroke="#b3b7d8" stroke-width="1"/>
<path d="M813.7,725.9 L813.1,728.7 L811.3,731.0 L809.1,732.6 L806.6,733.8 L803.9,733.7 L801.1,733.1 L799.3,730.9 L797.7,728.6 L797.1,725.9 L797.2,723.0 L799.1,720.7 L801.4,719.2 L803.8,717.7 L806.7,717.9 L809.1,719.2 L811.8,720.4 L813.3,722.9 Z" fill="#dcc3d3" opacity="0.75" stroke-linejoin="round"/>
<path d="M809.3,726.2 L809.3,727.6 L808.7,728.9 L807.6,729.8 L806.3,730.3 L804.8,730.1 L803.4,729.8 L802.5,728.8 L802.0,727.5 L801.6,726.2 L802.0,724.9 L802.3,723.4 L803.4,722.5 L804.9,722.4 L806.2,722.4 L807.6,722.6 L808.5,723.7 L809.1,724.9 Z" fill="#c9a9bd" opacity="0.75"/>
<path d="M834.1,728.8 L834.5,731.7 L832.9,734.1 L830.4,735.4 L827.9,736.6 L825.1,736.6 L822.4,735.9 L820.1,734.1 L819.5,731.3 L819.1,728.8 L818.6,725.9 L820.5,723.7 L822.4,721.5 L825.2,721.5 L827.9,721.0 L830.7,721.6 L832.4,723.8 L834.6,725.8 Z" fill="#dcc3d3" opacity="0.75" stroke-linejoin="round"/>
<path d="M830.9,729.1 L830.4,730.4 L830.1,731.8 L829.0,732.8 L827.5,733.0 L826.1,733.1 L824.9,732.4 L823.9,731.5 L823.2,730.4 L822.7,729.1 L823.2,727.8 L823.5,726.3 L825.0,725.8 L826.2,725.3 L827.5,725.4 L828.9,725.5 L829.8,726.6 L830.6,727.7 Z" fill="#c9a9bd" opacity="0.75"/>
<path d="M795.4,735.1 L794.9,738.0 L792.5,739.9 L790.6,741.6 L788.3,743.4 L785.4,743.3 L782.7,742.2 L780.9,740.1 L779.2,737.9 L778.7,735.1 L779.2,732.3 L781.0,730.2 L782.9,728.2 L785.5,727.4 L788.3,726.9 L791.1,727.6 L793.4,729.6 L794.4,732.3 Z" fill="#dcc3d3" opacity="0.75" stroke-linejoin="round"/>
<path d="M790.9,735.4 L791.0,736.8 L790.0,737.8 L789.2,739.0 L787.8,739.4 L786.4,739.3 L785.1,738.9 L784.0,738.0 L783.6,736.7 L783.1,735.4 L783.3,734.0 L784.1,732.8 L785.0,731.7 L786.4,731.3 L787.8,731.5 L789.0,732.1 L790.0,733.0 L791.1,734.0 Z" fill="#c9a9bd" opacity="0.75"/>
<path d="M848.6,745.5 L848.5,748.2 L846.9,750.5 L845.0,752.5 L842.3,753.5 L839.6,752.8 L837.2,751.8 L834.4,750.9 L833.7,748.1 L833.2,745.5 L832.8,742.5 L834.8,740.3 L836.7,738.2 L839.5,737.6 L842.3,737.4 L844.7,738.9 L847.2,740.2 L848.9,742.6 Z" fill="#dcc3d3" opacity="0.75" stroke-linejoin="round"/>
<path d="M845.5,745.8 L844.9,747.1 L844.4,748.4 L843.3,749.3 L841.9,749.5 L840.6,749.4 L839.2,749.3 L838.3,748.2 L837.5,747.1 L837.0,745.8 L837.2,744.3 L838.3,743.3 L839.3,742.5 L840.5,742.0 L841.9,741.6 L843.1,742.6 L844.1,743.3 L844.7,744.5 Z" fill="#c9a9bd" opacity="0.75"/>
<path d="M783.6,752.4 L782.9,754.9 L781.9,757.4 L779.7,758.9 L777.2,759.7 L774.5,760.1 L771.6,759.8 L769.5,757.7 L768.1,755.2 L768.2,752.4 L768.3,749.6 L770.0,747.4 L772.1,745.8 L774.6,745.0 L777.2,744.8 L780.2,745.0 L782.3,746.9 L783.8,749.5 Z" fill="#dcc3d3" opacity="0.75" stroke-linejoin="round"/>
<path d="M780.5,752.7 L780.2,754.1 L779.4,755.3 L778.1,756.0 L776.9,756.5 L775.5,756.7 L774.1,756.3 L773.4,755.0 L772.6,754.0 L771.9,752.7 L772.7,751.4 L773.1,750.0 L774.2,749.3 L775.5,748.6 L776.9,748.5 L778.2,749.1 L779.2,750.1 L779.8,751.3 Z" fill="#c9a9bd" opacity="0.75"/>
<path d="M853.7,763.3 L853.3,766.1 L851.9,768.7 L849.8,770.7 L847.0,771.5 L844.0,771.7 L841.8,769.7 L839.4,768.4 L837.5,766.2 L837.3,763.3 L837.5,760.4 L839.8,758.5 L841.5,756.4 L844.2,755.7 L846.9,755.4 L849.6,756.3 L851.2,758.5 L852.7,760.7 Z" fill="#dcc3d3" opacity="0.75" stroke-linejoin="round"/>
<path d="M850.1,763.6 L849.5,764.9 L849.0,766.3 L848.0,767.3 L846.5,767.4 L845.1,767.7 L843.9,767.0 L842.9,766.0 L842.1,764.9 L841.7,763.6 L842.3,762.3 L842.7,761.0 L843.9,760.2 L845.2,759.9 L846.5,759.7 L847.8,760.2 L848.9,761.0 L849.8,762.1 Z" fill="#c9a9bd" opacity="0.75"/>
<path d="M787.1,775.9 L786.7,778.8 L784.9,781.1 L782.6,782.6 L780.0,783.2 L777.3,784.0 L774.8,782.8 L772.4,781.3 L771.4,778.6 L770.4,775.9 L771.5,773.3 L772.3,770.6 L774.6,768.8 L777.4,768.2 L780.2,768.0 L782.9,768.8 L784.6,771.1 L786.4,773.2 Z" fill="#dcc3d3" opacity="0.75" stroke-linejoin="round"/>
<path d="M783.2,776.2 L783.1,777.7 L781.9,778.6 L781.2,780.0 L779.8,780.4 L778.4,779.9 L777.0,779.9 L775.9,778.9 L775.5,777.5 L774.8,776.2 L775.4,774.9 L776.0,773.7 L777.0,772.7 L778.4,772.2 L779.8,772.2 L781.0,772.9 L782.1,773.7 L782.6,775.0 Z" fill="#c9a9bd" opacity="0.75"/>
<path d="M845.8,780.6 L845.1,783.1 L844.3,785.8 L841.8,787.0 L839.4,788.5 L836.7,788.3 L834.3,787.0 L831.9,785.7 L831.1,783.1 L830.1,780.6 L831.0,778.0 L832.3,775.7 L834.1,773.7 L836.6,772.3 L839.3,773.1 L841.9,773.9 L844.3,775.3 L846.1,777.6 Z" fill="#dcc3d3" opacity="0.75" stroke-linejoin="round"/>
<path d="M842.2,780.9 L842.1,782.2 L841.6,783.6 L840.4,784.4 L839.0,784.8 L837.7,784.7 L836.4,784.1 L835.0,783.6 L834.4,782.3 L834.5,780.9 L834.5,779.5 L835.2,778.2 L836.2,777.2 L837.7,777.1 L839.0,777.0 L840.2,777.6 L841.4,778.2 L842.3,779.4 Z" fill="#c9a9bd" opacity="0.75"/>
<path d="M796.8,788.6 L797.2,791.5 L794.9,793.4 L793.3,795.8 L790.4,796.0 L787.8,796.2 L784.8,796.1 L783.3,793.5 L781.4,791.4 L781.2,788.6 L781.7,785.9 L783.0,783.5 L785.3,782.0 L787.7,780.3 L790.4,781.2 L793.0,782.0 L794.8,783.9 L796.4,786.0 Z" fill="#dcc3d3" opacity="0.75" stroke-linejoin="round"/>
<path d="M793.2,788.9 L793.4,790.3 L792.7,791.6 L791.4,792.3 L790.1,792.7 L788.8,792.7 L787.6,792.1 L786.5,791.4 L785.8,790.2 L785.2,788.9 L785.9,787.6 L786.5,786.5 L787.3,785.2 L788.7,784.7 L790.1,785.2 L791.4,785.5 L792.7,786.1 L793.1,787.6 Z" fill="#c9a9bd" opacity="0.75"/>
<path d="M815.5,795.5 L814.9,798.2 L813.3,800.4 L811.8,802.8 L808.8,802.8 L806.1,803.4 L803.3,802.9 L801.8,800.3 L800.0,798.3 L799.4,795.5 L800.6,793.0 L801.5,790.5 L803.4,788.4 L806.2,787.7 L809.0,787.3 L811.3,789.0 L813.4,790.6 L814.6,792.9 Z" fill="#dcc3d3" opacity="0.75" stroke-linejoin="round"/>
<path d="M811.7,795.8 L811.6,797.2 L810.9,798.4 L809.7,799.1 L808.5,799.8 L807.1,800.0 L805.8,799.3 L804.8,798.4 L803.9,797.2 L803.9,795.8 L804.2,794.5 L804.6,793.1 L805.9,792.5 L807.1,791.6 L808.6,791.6 L809.9,792.3 L810.9,793.2 L811.3,794.5 Z" fill="#c9a9bd" opacity="0.75"/>
<path d="M830.6,792.1 L829.9,794.8 L828.7,797.3 L826.3,798.7 L824.0,800.3 L821.0,800.3 L818.4,799.2 L816.7,796.9 L815.0,794.8 L814.7,792.1 L815.3,789.4 L815.9,786.5 L818.2,784.6 L821.2,784.8 L824.0,783.7 L826.6,785.0 L828.5,787.0 L829.8,789.4 Z" fill="#dcc3d3" opacity="0.75" stroke-linejoin="round"/>
<path d="M827.1,792.4 L826.5,793.7 L826.0,795.1 L824.7,795.7 L823.5,796.3 L822.1,796.2 L820.8,795.8 L819.9,794.8 L819.1,793.7 L818.9,792.4 L819.3,791.1 L819.6,789.7 L820.7,788.7 L822.1,788.6 L823.5,788.3 L824.8,788.9 L825.8,789.8 L826.6,791.0 Z" fill="#c9a9bd" opacity="0.75"/>
<path d="M805.2,738.0 L804.4,741.0 L802.9,743.7 L800.6,745.9 L797.5,746.1 L794.5,746.6 L791.5,745.9 L789.0,743.8 L787.9,741.0 L787.9,738.0 L788.1,735.1 L788.9,732.0 L792.0,731.0 L794.6,729.8 L797.6,728.9 L800.3,730.6 L802.3,732.7 L803.9,735.1 Z" fill="#f2a2a9" opacity="1" stroke="#e8929a" stroke-width="0.5" stroke-linejoin="round"/>
<path d="M800.6,738.3 L800.2,739.7 L799.9,741.2 L798.5,742.1 L797.1,742.6 L795.5,742.8 L794.3,741.8 L792.9,741.2 L792.5,739.7 L792.2,738.3 L792.4,736.8 L792.9,735.4 L794.0,734.3 L795.6,733.9 L797.1,734.2 L798.4,734.8 L799.5,735.6 L800.2,736.9 Z" fill="#d98a93" opacity="1"/>
<path d="M822.6,733.4 L822.8,736.4 L821.2,739.0 L818.7,740.8 L815.9,741.5 L812.9,742.2 L809.9,741.2 L807.8,738.9 L806.4,736.3 L806.2,733.4 L807.0,730.7 L808.0,728.0 L810.1,725.8 L813.1,725.5 L816.0,724.5 L818.6,726.2 L820.7,728.1 L821.9,730.6 Z" fill="#f2a2a9" opacity="1" stroke="#e8929a" stroke-width="0.5" stroke-linejoin="round"/>
<path d="M818.8,733.7 L818.8,735.2 L818.0,736.4 L817.0,737.6 L815.5,738.0 L814.0,737.9 L812.4,737.7 L811.6,736.3 L810.5,735.2 L810.5,733.7 L810.6,732.2 L811.2,730.7 L812.5,729.8 L814.0,729.4 L815.5,729.2 L816.7,730.2 L818.0,730.9 L819.0,732.1 Z" fill="#d98a93" opacity="1"/>
<path d="M832.9,740.3 L831.3,743.0 L829.7,745.4 L828.3,748.3 L825.1,748.3 L822.2,748.2 L819.2,747.9 L817.2,745.7 L815.1,743.4 L815.4,740.3 L815.0,737.1 L817.3,734.9 L819.3,732.7 L822.1,731.2 L825.2,731.6 L828.2,732.3 L830.5,734.6 L831.1,737.5 Z" fill="#f2a2a9" opacity="1" stroke="#e8929a" stroke-width="0.5" stroke-linejoin="round"/>
<path d="M828.3,740.6 L828.1,742.1 L827.1,743.3 L826.2,744.6 L824.7,745.0 L823.2,745.0 L821.8,744.3 L820.5,743.5 L819.8,742.1 L819.6,740.6 L820.2,739.2 L820.7,737.8 L821.6,736.6 L823.2,736.3 L824.7,736.4 L826.1,736.8 L827.1,738.0 L827.9,739.1 Z" fill="#d98a93" opacity="1"/>
<path d="M794.9,746.0 L794.3,749.2 L792.7,751.9 L789.7,753.0 L787.2,754.6 L784.2,754.4 L781.4,753.5 L779.5,751.2 L778.0,748.8 L777.1,746.0 L778.0,743.2 L779.1,740.5 L781.7,739.1 L784.3,738.1 L787.2,737.3 L789.9,738.7 L792.3,740.5 L794.1,743.0 Z" fill="#f2a2a9" opacity="1" stroke="#e8929a" stroke-width="0.5" stroke-linejoin="round"/>
<path d="M790.0,746.3 L789.7,747.7 L789.2,749.1 L788.0,749.8 L786.8,750.8 L785.3,750.3 L783.8,750.1 L782.8,749.0 L781.7,747.9 L781.9,746.3 L782.0,744.9 L782.8,743.6 L783.9,742.8 L785.3,742.4 L786.7,742.1 L788.0,742.9 L789.3,743.5 L789.7,745.0 Z" fill="#d98a93" opacity="1"/>
<path d="M839.4,746.0 L839.1,749.1 L836.8,751.3 L835.2,754.1 L832.0,754.1 L829.0,754.7 L826.5,753.0 L823.7,751.8 L822.9,748.8 L821.7,746.0 L822.2,743.0 L823.7,740.3 L826.3,738.7 L829.0,737.1 L832.2,736.9 L834.6,739.0 L837.2,740.5 L839.2,742.9 Z" fill="#f2a2a9" opacity="1" stroke="#e8929a" stroke-width="0.5" stroke-linejoin="round"/>
<path d="M835.5,746.3 L834.9,747.8 L834.0,749.0 L833.2,750.3 L831.6,750.5 L830.1,750.8 L828.9,749.8 L827.7,748.9 L826.5,747.9 L826.3,746.3 L827.1,745.0 L827.6,743.6 L828.7,742.7 L830.1,742.3 L831.6,742.4 L832.9,742.7 L834.0,743.7 L834.7,744.9 Z" fill="#d98a93" opacity="1"/>
<path d="M790.1,763.3 L790.3,766.4 L788.6,769.1 L785.7,770.4 L783.2,772.3 L780.1,771.9 L777.7,770.2 L774.6,769.2 L773.9,766.1 L773.3,763.3 L773.7,760.4 L775.0,757.7 L777.6,756.3 L780.1,754.6 L783.2,754.4 L786.0,755.8 L788.5,757.5 L789.9,760.3 Z" fill="#f2a2a9" opacity="1" stroke="#e8929a" stroke-width="0.5" stroke-linejoin="round"/>
<path d="M786.5,763.6 L785.8,765.0 L785.4,766.5 L784.0,767.2 L782.7,768.0 L781.2,767.7 L779.8,767.4 L778.6,766.4 L778.2,764.9 L777.5,763.6 L778.1,762.2 L778.6,760.8 L779.7,759.7 L781.2,759.3 L782.7,759.2 L784.0,760.0 L785.2,760.8 L785.8,762.2 Z" fill="#d98a93" opacity="1"/>
<path d="M844.1,759.8 L842.9,762.6 L841.4,765.1 L839.5,767.4 L836.5,767.7 L833.6,768.7 L830.7,767.6 L829.1,765.0 L826.8,762.9 L826.6,759.8 L826.9,756.8 L828.1,753.9 L830.5,751.8 L833.7,751.5 L836.7,750.9 L839.7,752.0 L842.2,753.9 L842.6,757.1 Z" fill="#f2a2a9" opacity="1" stroke="#e8929a" stroke-width="0.5" stroke-linejoin="round"/>
<path d="M839.8,760.1 L839.5,761.6 L838.7,762.9 L837.7,763.9 L836.2,764.4 L834.7,764.4 L833.4,763.7 L832.4,762.7 L831.3,761.6 L831.4,760.1 L831.3,758.6 L832.1,757.4 L833.4,756.5 L834.7,755.7 L836.2,756.0 L837.6,756.5 L838.9,757.2 L839.5,758.7 Z" fill="#d98a93" opacity="1"/>
<path d="M844.5,772.5 L844.1,775.5 L842.8,778.4 L839.8,779.6 L837.1,780.4 L834.2,781.4 L831.5,779.7 L829.3,777.9 L827.2,775.6 L827.6,772.5 L827.1,769.4 L829.2,767.0 L831.7,765.6 L834.1,763.5 L837.2,763.9 L839.7,765.6 L842.7,766.7 L844.2,769.4 Z" fill="#f2a2a9" opacity="1" stroke="#e8929a" stroke-width="0.5" stroke-linejoin="round"/>
<path d="M840.0,772.8 L840.2,774.3 L839.4,775.6 L838.0,776.3 L836.7,776.7 L835.2,777.3 L833.9,776.5 L832.8,775.5 L831.9,774.3 L831.4,772.8 L832.1,771.4 L832.5,769.8 L833.9,769.2 L835.2,768.3 L836.8,768.4 L838.1,769.3 L839.5,769.8 L839.8,771.4 Z" fill="#d98a93" opacity="1"/>
<path d="M798.3,776.5 L797.9,779.3 L797.0,782.1 L794.4,783.6 L791.7,784.5 L788.8,784.9 L786.0,783.9 L784.0,781.8 L782.3,779.4 L781.2,776.5 L782.7,773.8 L784.0,771.3 L786.3,769.6 L788.8,768.4 L791.7,768.6 L794.9,768.5 L796.7,771.2 L799.0,773.4 Z" fill="#f2a2a9" opacity="1" stroke="#e8929a" stroke-width="0.5" stroke-linejoin="round"/>
<path d="M795.2,776.8 L794.4,778.2 L793.9,779.6 L792.6,780.3 L791.3,780.7 L789.9,780.8 L788.4,780.6 L787.4,779.5 L786.4,778.3 L786.1,776.8 L786.5,775.3 L787.5,774.3 L788.6,773.3 L789.9,772.7 L791.3,772.7 L792.9,772.9 L794.0,774.0 L794.6,775.4 Z" fill="#d98a93" opacity="1"/>
<path d="M809.3,787.5 L808.5,790.3 L807.6,793.3 L804.8,794.7 L802.1,795.9 L799.2,795.7 L796.4,794.8 L793.5,793.4 L793.1,790.2 L792.1,787.5 L792.9,784.6 L794.2,782.1 L796.0,779.4 L799.2,779.2 L802.2,778.8 L804.9,780.1 L807.5,781.7 L808.6,784.5 Z" fill="#f2a2a9" opacity="1" stroke="#e8929a" stroke-width="0.5" stroke-linejoin="round"/>
<path d="M805.3,787.8 L805.2,789.3 L804.1,790.4 L803.2,791.7 L801.7,792.3 L800.1,792.3 L798.7,791.6 L797.7,790.4 L796.7,789.3 L796.9,787.8 L796.9,786.3 L797.8,785.2 L798.7,783.9 L800.2,783.5 L801.7,783.3 L803.0,784.2 L804.3,784.9 L805.2,786.2 Z" fill="#d98a93" opacity="1"/>
<path d="M821.4,787.5 L820.5,790.3 L818.8,792.6 L817.1,795.1 L814.1,795.5 L811.3,795.6 L808.5,794.8 L806.0,793.1 L804.0,790.6 L804.2,787.5 L804.0,784.3 L805.6,781.5 L808.6,780.3 L811.3,779.6 L814.1,779.4 L817.3,779.6 L819.4,781.8 L821.3,784.3 Z" fill="#f2a2a9" opacity="1" stroke="#e8929a" stroke-width="0.5" stroke-linejoin="round"/>
<path d="M817.3,787.8 L816.9,789.2 L816.4,790.6 L815.3,791.7 L813.8,792.1 L812.3,791.7 L811.0,791.3 L809.8,790.4 L808.7,789.3 L808.6,787.8 L809.0,786.3 L809.6,784.9 L811.0,784.3 L812.2,783.4 L813.8,783.4 L815.1,784.2 L816.2,785.1 L817.0,786.3 Z" fill="#d98a93" opacity="1"/>
<path d="M836.2,784.0 L835.8,786.8 L834.7,789.4 L832.7,791.7 L829.7,792.0 L826.9,791.9 L824.1,791.1 L821.4,789.8 L820.6,786.8 L819.3,784.0 L820.0,781.0 L822.0,778.8 L823.9,776.5 L826.8,775.6 L829.7,775.7 L832.9,776.0 L834.4,778.8 L835.7,781.3 Z" fill="#f2a2a9" opacity="1" stroke="#e8929a" stroke-width="0.5" stroke-linejoin="round"/>
<path d="M832.7,784.3 L832.8,785.8 L831.6,786.9 L830.6,787.9 L829.3,788.5 L827.8,788.8 L826.5,787.9 L825.2,787.1 L824.8,785.7 L824.5,784.3 L824.4,782.8 L825.2,781.5 L826.3,780.4 L827.8,780.1 L829.3,780.1 L830.6,780.8 L831.7,781.7 L832.3,782.9 Z" fill="#d98a93" opacity="1"/>
<path d="M829.4,779.4 L829.1,782.2 L827.7,784.8 L825.9,787.3 L822.8,787.9 L819.8,788.2 L817.3,786.4 L814.7,784.9 L812.8,782.5 L812.7,779.4 L812.7,776.3 L814.4,773.5 L817.1,772.1 L820.0,771.6 L822.9,770.6 L825.4,772.4 L827.4,774.3 L829.7,776.4 Z" fill="#f2a2a9" opacity="1" stroke="#e8929a" stroke-width="0.5" stroke-linejoin="round"/>
<path d="M825.9,779.7 L825.6,781.2 L825.2,782.6 L823.9,783.7 L822.4,783.8 L820.9,784.2 L819.3,783.7 L818.2,782.6 L817.9,781.1 L817.0,779.7 L817.8,778.3 L818.2,776.8 L819.6,776.2 L820.9,775.4 L822.4,775.5 L823.9,775.9 L825.1,776.8 L825.9,778.1 Z" fill="#d98a93" opacity="1"/>
<path d="M808.2,775.9 L807.7,779.0 L806.4,781.8 L803.6,783.1 L801.0,784.6 L797.9,784.9 L794.9,783.9 L793.2,781.2 L791.2,779.0 L790.7,775.9 L791.4,773.0 L792.4,770.0 L795.2,768.5 L798.0,767.6 L801.1,766.9 L803.9,768.3 L805.9,770.6 L807.3,773.1 Z" fill="#f2a2a9" opacity="1" stroke="#e8929a" stroke-width="0.5" stroke-linejoin="round"/>
<path d="M804.1,776.2 L803.8,777.7 L803.2,779.1 L802.0,780.2 L800.5,780.4 L799.0,780.5 L797.6,780.0 L796.4,779.1 L795.5,777.8 L795.3,776.2 L795.5,774.7 L796.4,773.4 L797.7,772.7 L799.1,772.2 L800.5,772.3 L801.9,772.5 L802.9,773.6 L803.7,774.8 Z" fill="#d98a93" opacity="1"/>
<path d="M814.8,739.7 L814.3,742.7 L813.1,745.5 L810.7,747.6 L807.7,748.7 L804.7,748.0 L801.5,747.7 L799.6,745.2 L798.3,742.6 L798.1,739.7 L798.1,736.8 L799.9,734.5 L802.0,732.5 L804.6,731.1 L807.7,730.9 L810.6,732.0 L812.3,734.5 L813.7,737.0 Z" fill="#f2a2a9" opacity="1" stroke="#e8929a" stroke-width="0.5" stroke-linejoin="round"/>
<path d="M810.7,740.0 L810.3,741.4 L810.0,743.0 L808.7,744.0 L807.2,744.4 L805.7,744.5 L804.5,743.4 L803.0,742.9 L802.7,741.4 L802.2,740.0 L802.4,738.5 L803.3,737.3 L804.3,736.2 L805.7,735.8 L807.1,736.1 L808.5,736.4 L809.8,737.2 L810.7,738.5 Z" fill="#d98a93" opacity="1"/>
<path d="M799.2,755.0 L798.9,758.1 L797.4,760.8 L795.1,762.9 L791.9,763.2 L788.9,764.1 L786.2,762.5 L783.7,760.8 L782.1,758.1 L781.3,755.0 L782.7,752.2 L784.1,749.6 L786.1,747.3 L789.0,746.4 L792.1,746.2 L794.7,747.7 L797.6,749.1 L798.0,752.3 Z" fill="#f2a2a9" opacity="1" stroke="#e8929a" stroke-width="0.5" stroke-linejoin="round"/>
<path d="M795.2,755.3 L794.9,756.8 L794.1,758.1 L793.0,759.0 L791.6,759.8 L790.1,759.3 L788.7,758.9 L787.5,758.1 L787.0,756.7 L786.4,755.3 L786.9,753.9 L787.3,752.4 L788.7,751.7 L790.0,750.8 L791.6,750.8 L792.9,751.7 L794.0,752.6 L794.5,753.9 Z" fill="#d98a93" opacity="1"/>
<path d="M811.5,750.1 L810.6,753.1 L809.5,756.0 L806.7,757.6 L803.9,759.0 L800.7,759.7 L798.1,757.4 L795.6,755.7 L793.6,753.3 L793.9,750.1 L794.3,747.1 L795.0,743.9 L797.5,741.6 L800.8,741.4 L803.9,741.5 L807.3,741.6 L809.1,744.4 L811.1,746.9 Z" fill="#f6a3a8" opacity="1" stroke="#ea8f97" stroke-width="0.5" stroke-linejoin="round"/>
<path d="M807.4,750.4 L807.2,752.0 L806.0,753.1 L804.9,754.2 L803.4,754.8 L801.9,754.6 L800.5,754.0 L799.0,753.4 L798.5,751.9 L797.9,750.4 L798.1,748.7 L799.2,747.5 L800.3,746.3 L801.9,746.2 L803.5,745.6 L804.8,746.6 L806.3,747.3 L806.9,748.8 Z" fill="#cf6d77" opacity="1"/>
<path d="M828.9,749.5 L828.7,752.6 L826.8,755.0 L825.0,757.8 L821.7,758.1 L818.6,758.5 L815.3,757.9 L813.3,755.2 L811.0,752.8 L810.8,749.5 L811.6,746.3 L813.1,743.5 L815.6,741.5 L818.7,740.7 L821.9,739.8 L824.7,741.7 L827.7,743.2 L829.2,746.2 Z" fill="#f6a3a8" opacity="1" stroke="#ea8f97" stroke-width="0.5" stroke-linejoin="round"/>
<path d="M825.2,749.8 L825.0,751.4 L824.2,752.9 L822.8,753.8 L821.2,754.1 L819.6,754.6 L818.1,754.0 L817.0,752.7 L816.2,751.3 L815.9,749.8 L816.2,748.2 L816.8,746.7 L818.1,745.7 L819.7,745.2 L821.3,745.2 L822.8,745.8 L823.8,747.0 L824.6,748.3 Z" fill="#cf6d77" opacity="1"/>
<path d="M803.5,765.6 L801.7,768.5 L801.0,771.7 L798.3,773.5 L795.4,775.2 L792.2,774.4 L788.9,774.0 L787.1,771.1 L784.5,769.0 L784.8,765.6 L785.6,762.6 L786.9,759.9 L789.1,757.5 L792.3,757.3 L795.3,756.8 L797.9,758.3 L800.2,760.1 L801.8,762.6 Z" fill="#f6a3a8" opacity="1" stroke="#ea8f97" stroke-width="0.5" stroke-linejoin="round"/>
<path d="M798.9,765.9 L798.2,767.4 L797.3,768.7 L796.5,770.1 L794.9,770.6 L793.2,770.5 L791.6,770.1 L790.5,768.9 L790.1,767.3 L789.3,765.9 L789.7,764.3 L790.3,762.8 L791.8,762.1 L793.2,761.1 L794.8,761.3 L796.2,762.1 L797.5,762.9 L798.0,764.5 Z" fill="#cf6d77" opacity="1"/>
<path d="M832.9,765.6 L832.7,768.9 L830.6,771.4 L828.4,773.7 L825.3,775.2 L822.1,774.6 L818.9,773.8 L816.4,771.7 L814.6,768.9 L815.2,765.6 L815.5,762.6 L816.1,759.3 L818.9,757.4 L822.1,757.0 L825.3,756.3 L828.0,758.1 L830.5,759.9 L832.1,762.5 Z" fill="#f6a3a8" opacity="1" stroke="#ea8f97" stroke-width="0.5" stroke-linejoin="round"/>
<path d="M828.9,765.9 L827.9,767.3 L827.3,768.7 L826.4,770.1 L824.8,770.7 L823.1,770.4 L821.6,769.9 L820.3,769.0 L819.3,767.6 L819.1,765.9 L819.5,764.3 L820.5,763.0 L821.7,762.1 L823.1,761.3 L824.8,761.1 L826.3,761.8 L827.6,762.8 L828.4,764.3 Z" fill="#cf6d77" opacity="1"/>
<path d="M820.7,762.1 L819.0,765.1 L818.0,768.0 L815.5,770.0 L812.7,771.8 L809.4,770.9 L806.5,770.0 L803.9,768.1 L802.6,765.2 L801.3,762.1 L801.9,758.8 L803.8,756.1 L806.8,754.8 L809.3,752.5 L812.6,753.1 L815.6,754.1 L818.0,756.3 L819.6,759.0 Z" fill="#f6a3a8" opacity="1" stroke="#ea8f97" stroke-width="0.5" stroke-linejoin="round"/>
<path d="M815.6,762.4 L815.9,764.1 L814.7,765.3 L813.7,766.6 L812.1,766.9 L810.6,766.6 L809.0,766.4 L807.6,765.5 L807.1,764.0 L806.6,762.4 L807.0,760.9 L808.1,759.7 L808.9,758.3 L810.5,758.0 L812.1,757.7 L813.4,758.8 L814.7,759.6 L815.6,760.9 Z" fill="#cf6d77" opacity="1"/>
<path d="M816.6,774.8 L817.3,778.1 L814.7,780.3 L812.8,783.0 L809.8,784.2 L806.5,784.1 L803.7,782.4 L801.3,780.5 L799.3,778.0 L798.3,774.8 L799.3,771.6 L801.1,768.9 L803.6,767.1 L806.6,766.0 L809.7,765.5 L812.6,767.0 L815.1,768.9 L816.8,771.6 Z" fill="#f6a3a8" opacity="1" stroke="#ea8f97" stroke-width="0.5" stroke-linejoin="round"/>
<path d="M813.0,775.1 L812.7,776.7 L812.1,778.2 L810.9,779.3 L809.2,779.8 L807.6,779.5 L806.1,779.1 L804.8,778.2 L804.1,776.7 L804.0,775.1 L804.3,773.6 L804.7,772.0 L806.3,771.4 L807.7,771.0 L809.2,770.6 L810.6,771.4 L811.8,772.3 L812.8,773.5 Z" fill="#cf6d77" opacity="1"/>
<ellipse cx="979" cy="759.6" rx="49.7" ry="51.5" fill="#cfd9ea" stroke="#b5b8d6" stroke-width="1"/>
<circle cx="977.8" cy="729.7" r="16.8" fill="#7ba6d4" stroke="#5c8cc6" stroke-width="0.8"/>
<circle cx="979.6" cy="732.2" r="10.6" fill="#4478bb" stroke="#3f70b3" stroke-width="0.5"/>
<circle cx="1008.9" cy="757.5" r="16.8" fill="#7ba6d4" stroke="#5c8cc6" stroke-width="0.8"/>
<circle cx="1006.6" cy="759.3" r="10.6" fill="#4478bb" stroke="#3f70b3" stroke-width="0.5"/>
<circle cx="961.2" cy="770.4" r="16" fill="#7ba6d4" stroke="#5c8cc6" stroke-width="0.8"/>
<circle cx="960.8" cy="770.8" r="10" fill="#4478bb" stroke="#3f70b3" stroke-width="0.5"/>
<circle cx="997.4" cy="787.5" r="16.8" fill="#7ba6d4" stroke="#5c8cc6" stroke-width="0.8"/>
<circle cx="994.5" cy="787.5" r="10.6" fill="#4478bb" stroke="#3f70b3" stroke-width="0.5"/>
<circle cx="960.0" cy="747.4" r="17" fill="#7ba6d4" stroke="#5c8cc6" stroke-width="0.8"/>
<circle cx="958.3" cy="748.6" r="10.6" fill="#4478bb" stroke="#3f70b3" stroke-width="0.5"/>
<circle cx="989.0" cy="760.4" r="17" fill="#7ba6d4" stroke="#5c8cc6" stroke-width="0.8"/>
<circle cx="987.0" cy="761.3" r="10.6" fill="#4478bb" stroke="#3f70b3" stroke-width="0.5"/>
<circle cx="968.6" cy="786.9" r="17" fill="#7ba6d4" stroke="#5c8cc6" stroke-width="0.8"/>
<circle cx="966.9" cy="787.5" r="10.6" fill="#4478bb" stroke="#3f70b3" stroke-width="0.5"/>
<text x="610.6" y="840.6" font-size="20.0" font-weight="normal" fill="#111" stroke="#111" stroke-width="0.22" textLength="75.2" lengthAdjust="spacingAndGlyphs" >Baseline</text>
<text x="589.6" y="864.2" font-size="20.0" font-weight="normal" fill="#111" stroke="#111" stroke-width="0.22" textLength="117.2" lengthAdjust="spacingAndGlyphs" >inflammation</text>
<text x="751.2" y="845.0" font-size="20.0" font-weight="normal" fill="#111" stroke="#111" stroke-width="0.22" textLength="124.2" lengthAdjust="spacingAndGlyphs" >Tumor burden</text>
<text x="933.4" y="847.0" font-size="20.0" font-weight="normal" fill="#111" stroke="#111" stroke-width="0.22" textLength="111.2" lengthAdjust="spacingAndGlyphs" >T-cell counts</text>
<text x="761.4" y="906.8" font-size="19.7" font-weight="bold" fill="#111" stroke="#111" stroke-width="0.4" textLength="114.6" lengthAdjust="spacingAndGlyphs" >Collection of</text>
<text x="741.4" y="930.0" font-size="19.7" font-weight="bold" fill="#111" stroke="#111" stroke-width="0.4" textLength="154.6" lengthAdjust="spacingAndGlyphs" >clinical metadata</text>
<line x1="1084.5" y1="755.8" x2="1177.3" y2="755.8" stroke="#707070" stroke-width="4.8"/>
<polygon points="1198.8,755.8 1176.3,767.0 1176.3,744.5" fill="#707070"/>
<rect x="1239.6" y="694.4" width="202.1" height="124.5" rx="3.8" fill="#1e1e1e"/>
<rect x="1239.6" y="695.3" width="202.1" height="123.6" rx="3.6" fill="#3f3f3f"/>
<clipPath id="scr"><rect x="1247" y="703.6" width="187.7" height="105.6" rx="2.6"/></clipPath>
<rect x="1247" y="703.6" width="187.7" height="105.6" rx="2.6" fill="#e8e4e3"/>
<path clip-path="url(#scr)" fill="#ffffff" d="M1245.1,798.2 C1285.3,790.6 1328.9,773.9 1369.2,747.0 C1396.0,723.5 1417.0,701.7 1417.0,701.7 L1438.0,701.7 L1438.0,768.8 C1419.5,785.6 1391.0,799.0 1352.4,809.9 L1245.1,809.9 Z"/>
<path d="M1328.9,818 H1347 V838 C1347,841 1347.5,843 1348.3,844.8 H1327.6 C1328.4,843 1328.9,841 1328.9,838 Z" fill="#3f3f3f"/>
<path d="M1318.9,844 H1358.3 L1368.6,854.6 C1369.4,856 1368.8,857.8 1366.8,857.8 H1305.4 C1303.4,857.8 1302.8,856 1303.6,854.6 Z" fill="#656565"/>
<path d="M1303.8,854.6 H1368.4 C1369.4,856 1368.8,857.8 1366.8,857.8 H1305.4 C1303.4,857.8 1302.8,856 1303.8,854.6 Z" fill="#454545"/>
<path d="M1259.8,733.9 L1259.8,778.9 L1304.1,778.9" fill="none" stroke="#9a9a9a" stroke-width="0.7"/>
<line x1="1258.1" y1="738.6" x2="1259.8" y2="738.6" stroke="#9a9a9a" stroke-width="0.5"/>
<line x1="1258.1" y1="749.0" x2="1259.8" y2="749.0" stroke="#9a9a9a" stroke-width="0.5"/>
<line x1="1258.1" y1="759.1" x2="1259.8" y2="759.1" stroke="#9a9a9a" stroke-width="0.5"/>
<line x1="1258.1" y1="769.2" x2="1259.8" y2="769.2" stroke="#9a9a9a" stroke-width="0.5"/>
<rect x="1263.8" y="745.9" width="5.0" height="32.7" fill="#787878"/>
<rect x="1273.9" y="753.7" width="5.0" height="24.8" fill="#787878"/>
<rect x="1283.6" y="760.4" width="5.0" height="18.1" fill="#8f1a1a"/>
<rect x="1293.4" y="750.4" width="5.0" height="28.2" fill="#8f1a1a"/>
<rect x="1319.2" y="732.9" width="48.8" height="47.6" fill="#fff" stroke="#5a5a5a" stroke-width="0.7"/>
<circle cx="1328.3" cy="742.2" r="1.35" fill="#8f1a1a"/>
<circle cx="1342.5" cy="744.7" r="1.35" fill="#8f1a1a"/>
<circle cx="1336.8" cy="751.7" r="1.35" fill="#8f1a1a"/>
<circle cx="1325.1" cy="754.2" r="1.35" fill="#8f1a1a"/>
<circle cx="1328.9" cy="756.8" r="1.35" fill="#8f1a1a"/>
<circle cx="1345.9" cy="755.9" r="1.35" fill="#8f1a1a"/>
<circle cx="1337.7" cy="758.4" r="1.35" fill="#8f1a1a"/>
<circle cx="1325.1" cy="759.8" r="1.35" fill="#8f1a1a"/>
<circle cx="1327.6" cy="762.3" r="1.35" fill="#8f1a1a"/>
<circle cx="1334.3" cy="763.6" r="1.35" fill="#8f1a1a"/>
<circle cx="1325.1" cy="770.2" r="1.35" fill="#8f1a1a"/>
<circle cx="1359.8" cy="742.2" r="1.35" fill="#333"/>
<circle cx="1353.8" cy="749.7" r="1.35" fill="#333"/>
<circle cx="1345.9" cy="752.1" r="1.35" fill="#333"/>
<circle cx="1359.3" cy="752.4" r="1.35" fill="#333"/>
<circle cx="1356.9" cy="755.9" r="1.35" fill="#333"/>
<circle cx="1352.1" cy="756.4" r="1.35" fill="#333"/>
<circle cx="1354.8" cy="758.4" r="1.35" fill="#333"/>
<circle cx="1348.6" cy="761.8" r="1.35" fill="#333"/>
<circle cx="1344.7" cy="767.5" r="1.35" fill="#333"/>
<circle cx="1360.3" cy="767.5" r="1.35" fill="#333"/>
<rect x="1393.00" y="743.34" width="5.41" height="5.64" fill="#fdf1c4"/>
<rect x="1398.31" y="743.34" width="5.41" height="5.64" fill="#fce7a0"/>
<rect x="1403.62" y="743.34" width="5.41" height="5.64" fill="#fdf1c4"/>
<rect x="1408.93" y="743.34" width="5.41" height="5.64" fill="#fbd870"/>
<rect x="1414.25" y="743.34" width="5.41" height="5.64" fill="#e5453a"/>
<rect x="1419.56" y="743.34" width="5.41" height="5.64" fill="#ee7a2c"/>
<rect x="1393.00" y="748.87" width="5.41" height="5.64" fill="#fdf1c4"/>
<rect x="1398.31" y="748.87" width="5.41" height="5.64" fill="#fce7a0"/>
<rect x="1403.62" y="748.87" width="5.41" height="5.64" fill="#fdf1c4"/>
<rect x="1408.93" y="748.87" width="5.41" height="5.64" fill="#fbd870"/>
<rect x="1414.25" y="748.87" width="5.41" height="5.64" fill="#e5453a"/>
<rect x="1419.56" y="748.87" width="5.41" height="5.64" fill="#e5453a"/>
<rect x="1393.00" y="754.41" width="5.41" height="5.64" fill="#fbd870"/>
<rect x="1398.31" y="754.41" width="5.41" height="5.64" fill="#fbd870"/>
<rect x="1403.62" y="754.41" width="5.41" height="5.64" fill="#fbd870"/>
<rect x="1408.93" y="754.41" width="5.41" height="5.64" fill="#e5453a"/>
<rect x="1414.25" y="754.41" width="5.41" height="5.64" fill="#fbd870"/>
<rect x="1419.56" y="754.41" width="5.41" height="5.64" fill="#fce7a0"/>
<rect x="1393.00" y="759.94" width="5.41" height="5.64" fill="#f6a623"/>
<rect x="1398.31" y="759.94" width="5.41" height="5.64" fill="#e5453a"/>
<rect x="1403.62" y="759.94" width="5.41" height="5.64" fill="#e5453a"/>
<rect x="1408.93" y="759.94" width="5.41" height="5.64" fill="#fdf1c4"/>
<rect x="1414.25" y="759.94" width="5.41" height="5.64" fill="#fdf1c4"/>
<rect x="1419.56" y="759.94" width="5.41" height="5.64" fill="#fdf1c4"/>
<rect x="1393.00" y="765.48" width="5.41" height="5.64" fill="#ee7a2c"/>
<rect x="1398.31" y="765.48" width="5.41" height="5.64" fill="#e5453a"/>
<rect x="1403.62" y="765.48" width="5.41" height="5.64" fill="#e5453a"/>
<rect x="1408.93" y="765.48" width="5.41" height="5.64" fill="#fbd870"/>
<rect x="1414.25" y="765.48" width="5.41" height="5.64" fill="#fbd870"/>
<rect x="1419.56" y="765.48" width="5.41" height="5.64" fill="#fbd870"/>
<rect x="1393.00" y="771.01" width="5.41" height="5.64" fill="#e5453a"/>
<rect x="1398.31" y="771.01" width="5.41" height="5.64" fill="#f6a623"/>
<rect x="1403.62" y="771.01" width="5.41" height="5.64" fill="#f6a623"/>
<rect x="1408.93" y="771.01" width="5.41" height="5.64" fill="#fbd870"/>
<rect x="1414.25" y="771.01" width="5.41" height="5.64" fill="#fdf1c4"/>
<rect x="1419.56" y="771.01" width="5.41" height="5.64" fill="#fdf1c4"/>
<rect x="1393.0" y="743.3" width="31.9" height="33.2" fill="none" stroke="#c9b98a" stroke-width="0.4"/>
<rect x="1383.9" y="733.1" width="9.9" height="2.5" fill="url(#leg)"/>
<path d="M1395.7,743.3 L1395.7,738.6 L1406.4,738.6 L1406.4,743.3 M1401.1,738.6 L1401.1,733.9 L1415.8,733.9 L1415.8,738.6 M1411.1,743.3 L1411.1,738.6 L1422.2,738.6 L1422.2,743.3 M1398.4,743.3 L1398.4,740.8 L1403.7,740.8 L1403.7,743.3 M1416.5,743.3 L1416.5,740.8 L1419.5,740.8 L1419.5,743.3 M1393.0,746.2 L1390.1,746.2 L1390.1,756.3 L1393.0,756.3 M1390.1,750.7 L1385.1,750.7 L1385.1,756.3 M1393.0,762.1 L1388.0,762.1 L1388.0,772.2 L1393.0,772.2 M1388.0,767.5 L1382.9,767.5 L1382.9,753.4 L1385.1,753.4 M1393.0,765.1 L1390.3,765.1 L1390.3,769.2 L1393.0,769.2 M1393.0,748.7 L1391.3,748.7 L1391.3,753.4 L1393.0,753.4 " fill="none" stroke="#8d8d8d" stroke-width="0.45"/>
<text x="1234.0" y="906.4" font-size="19.7" font-weight="bold" fill="#000" stroke="#000" stroke-width="0.4" textLength="211.2" lengthAdjust="spacingAndGlyphs" >Computational network</text>
<text x="1302.4" y="929.6" font-size="19.7" font-weight="bold" fill="#000" stroke="#000" stroke-width="0.4" textLength="73.8" lengthAdjust="spacingAndGlyphs" >analysis</text>
</svg>
</div>
</body>
</html>
